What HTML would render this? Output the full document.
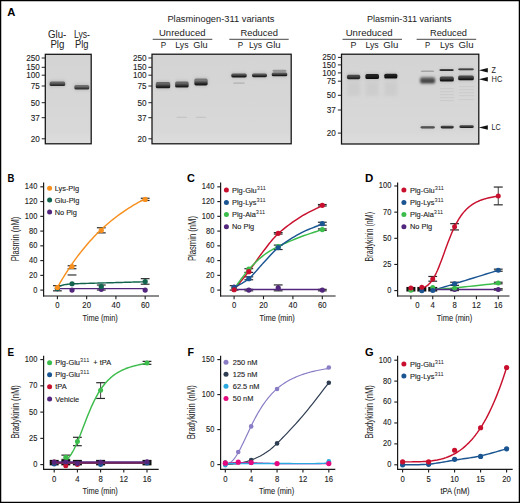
<!DOCTYPE html>
<html><head><meta charset="utf-8"><style>
html,body{margin:0;padding:0;background:#fff;}
svg{display:block;font-family:"Liberation Sans", sans-serif;}
</style></head><body>
<svg width="520" height="503" viewBox="0 0 520 503">
<defs>
<filter id="blur" x="-30%" y="-80%" width="160%" height="260%"><feGaussianBlur stdDeviation="0.7"/></filter>
<linearGradient id="gelbg" x1="0" y1="0" x2="0" y2="1"><stop offset="0" stop-color="#d4d4d4"/><stop offset="0.85" stop-color="#d8d8d8"/><stop offset="1" stop-color="#dddddd"/></linearGradient>
<filter id="blur3" x="-30%" y="-80%" width="160%" height="260%"><feGaussianBlur stdDeviation="1.0"/></filter>
<filter id="blur2" x="-50%" y="-50%" width="200%" height="200%"><feGaussianBlur stdDeviation="1.5"/></filter>
</defs>
<rect x="0" y="0" width="520" height="503" fill="#fff"/>
<text x="7.30" y="15.80" font-size="11.1" text-anchor="start" font-weight="bold" fill="#000" textLength="8.1" lengthAdjust="spacingAndGlyphs" >A</text>
<text x="48.00" y="37.60" font-size="10" text-anchor="start" font-weight="normal" fill="#222" textLength="18.3" lengthAdjust="spacingAndGlyphs" >Glu-</text>
<text x="50.40" y="48.20" font-size="10" text-anchor="start" font-weight="normal" fill="#222" textLength="14" lengthAdjust="spacingAndGlyphs" >Plg</text>
<text x="74.00" y="37.60" font-size="10" text-anchor="start" font-weight="normal" fill="#222" textLength="16" lengthAdjust="spacingAndGlyphs" >Lys-</text>
<text x="75.00" y="48.20" font-size="10" text-anchor="start" font-weight="normal" fill="#222" textLength="13.5" lengthAdjust="spacingAndGlyphs" >Plg</text>
<rect x="45.3" y="54.3" width="45.900000000000006" height="89.50000000000001" fill="url(#gelbg)"/>
<rect x="45.3" y="54.3" width="45.900000000000006" height="89.50000000000001" fill="none" stroke="#111" stroke-width="1.25"/>
<line x1="41.70" y1="58.00" x2="45.30" y2="58.00" stroke="#222" stroke-width="1.0"/>
<text x="39.80" y="60.90" font-size="8.5" text-anchor="end" font-weight="normal" fill="#1c1c1c" textLength="13.649999999999999" lengthAdjust="spacingAndGlyphs" stroke="#1c1c1c" stroke-width="0.1">250</text>
<line x1="41.70" y1="67.30" x2="45.30" y2="67.30" stroke="#222" stroke-width="1.0"/>
<text x="39.80" y="70.20" font-size="8.5" text-anchor="end" font-weight="normal" fill="#1c1c1c" textLength="13.649999999999999" lengthAdjust="spacingAndGlyphs" stroke="#1c1c1c" stroke-width="0.1">150</text>
<line x1="41.70" y1="75.20" x2="45.30" y2="75.20" stroke="#222" stroke-width="1.0"/>
<text x="39.80" y="78.10" font-size="8.5" text-anchor="end" font-weight="normal" fill="#1c1c1c" textLength="13.649999999999999" lengthAdjust="spacingAndGlyphs" stroke="#1c1c1c" stroke-width="0.1">100</text>
<line x1="41.70" y1="86.00" x2="45.30" y2="86.00" stroke="#222" stroke-width="1.0"/>
<text x="39.80" y="88.90" font-size="8.5" text-anchor="end" font-weight="normal" fill="#1c1c1c" textLength="9.1" lengthAdjust="spacingAndGlyphs" stroke="#1c1c1c" stroke-width="0.1">75</text>
<line x1="41.70" y1="102.70" x2="45.30" y2="102.70" stroke="#222" stroke-width="1.0"/>
<text x="39.80" y="105.60" font-size="8.5" text-anchor="end" font-weight="normal" fill="#1c1c1c" textLength="9.1" lengthAdjust="spacingAndGlyphs" stroke="#1c1c1c" stroke-width="0.1">50</text>
<line x1="41.70" y1="117.70" x2="45.30" y2="117.70" stroke="#222" stroke-width="1.0"/>
<text x="39.80" y="120.60" font-size="8.5" text-anchor="end" font-weight="normal" fill="#1c1c1c" textLength="9.1" lengthAdjust="spacingAndGlyphs" stroke="#1c1c1c" stroke-width="0.1">37</text>
<line x1="41.70" y1="138.80" x2="45.30" y2="138.80" stroke="#222" stroke-width="1.0"/>
<text x="39.80" y="141.70" font-size="8.5" text-anchor="end" font-weight="normal" fill="#1c1c1c" textLength="9.1" lengthAdjust="spacingAndGlyphs" stroke="#1c1c1c" stroke-width="0.1">20</text>
<rect x="49.10" y="80.30" width="16.60" height="6.80" rx="2" fill="#8a8a8a" opacity="0.3" filter="url(#blur2)"/>
<linearGradient id="g22" x1="0" y1="0" x2="0" y2="1"><stop offset="0" stop-color="#666"/><stop offset="0.3" stop-color="#666"/><stop offset="0.8" stop-color="#2a2a2a"/><stop offset="1" stop-color="#2a2a2a"/></linearGradient>
<rect x="49.60" y="81.50" width="15.60" height="4.60" rx="1.6" fill="url(#g22)" opacity="1.0" filter="url(#blur)"/>
<rect x="73.85" y="83.70" width="15.90" height="6.80" rx="2" fill="#8a8a8a" opacity="0.3" filter="url(#blur2)"/>
<linearGradient id="g25" x1="0" y1="0" x2="0" y2="1"><stop offset="0" stop-color="#707070"/><stop offset="0.3" stop-color="#707070"/><stop offset="0.8" stop-color="#333"/><stop offset="1" stop-color="#333"/></linearGradient>
<rect x="74.35" y="84.90" width="14.90" height="4.60" rx="1.6" fill="url(#g25)" opacity="1.0" filter="url(#blur)"/>
<text x="167.40" y="22.20" font-size="8.5" text-anchor="start" font-weight="normal" fill="#222" textLength="107" lengthAdjust="spacingAndGlyphs" >Plasminogen-311 variants</text>
<text x="159.00" y="35.90" font-size="9.4" text-anchor="start" font-weight="normal" fill="#222" textLength="46.5" lengthAdjust="spacingAndGlyphs" >Unreduced</text>
<line x1="152.70" y1="39.30" x2="212.30" y2="39.30" stroke="#333" stroke-width="0.9"/>
<text x="240.40" y="35.90" font-size="9.4" text-anchor="start" font-weight="normal" fill="#222" textLength="37.6" lengthAdjust="spacingAndGlyphs" >Reduced</text>
<line x1="229.30" y1="39.30" x2="288.70" y2="39.30" stroke="#333" stroke-width="0.9"/>
<text x="160.80" y="48.10" font-size="9.0" text-anchor="start" font-weight="normal" fill="#222" textLength="5.4" lengthAdjust="spacingAndGlyphs" >P</text>
<text x="175.30" y="48.10" font-size="9.0" text-anchor="start" font-weight="normal" fill="#222" textLength="13.2" lengthAdjust="spacingAndGlyphs" >Lys</text>
<text x="193.30" y="48.10" font-size="9.0" text-anchor="start" font-weight="normal" fill="#222" textLength="14.3" lengthAdjust="spacingAndGlyphs" >Glu</text>
<text x="237.70" y="48.10" font-size="9.0" text-anchor="start" font-weight="normal" fill="#222" textLength="5.4" lengthAdjust="spacingAndGlyphs" >P</text>
<text x="249.00" y="48.10" font-size="9.0" text-anchor="start" font-weight="normal" fill="#222" textLength="13" lengthAdjust="spacingAndGlyphs" >Lys</text>
<text x="265.80" y="48.10" font-size="9.0" text-anchor="start" font-weight="normal" fill="#222" textLength="14.9" lengthAdjust="spacingAndGlyphs" >Glu</text>
<rect x="152" y="54.2" width="139.2" height="89.60000000000001" fill="url(#gelbg)"/>
<rect x="152" y="54.2" width="139.2" height="89.60000000000001" fill="none" stroke="#111" stroke-width="1.25"/>
<line x1="148.40" y1="58.00" x2="152.00" y2="58.00" stroke="#222" stroke-width="1.0"/>
<text x="146.60" y="60.90" font-size="8.5" text-anchor="end" font-weight="normal" fill="#1c1c1c" textLength="13.649999999999999" lengthAdjust="spacingAndGlyphs" stroke="#1c1c1c" stroke-width="0.1">250</text>
<line x1="148.40" y1="67.30" x2="152.00" y2="67.30" stroke="#222" stroke-width="1.0"/>
<text x="146.60" y="70.20" font-size="8.5" text-anchor="end" font-weight="normal" fill="#1c1c1c" textLength="13.649999999999999" lengthAdjust="spacingAndGlyphs" stroke="#1c1c1c" stroke-width="0.1">150</text>
<line x1="148.40" y1="75.20" x2="152.00" y2="75.20" stroke="#222" stroke-width="1.0"/>
<text x="146.60" y="78.10" font-size="8.5" text-anchor="end" font-weight="normal" fill="#1c1c1c" textLength="13.649999999999999" lengthAdjust="spacingAndGlyphs" stroke="#1c1c1c" stroke-width="0.1">100</text>
<line x1="148.40" y1="86.00" x2="152.00" y2="86.00" stroke="#222" stroke-width="1.0"/>
<text x="146.60" y="88.90" font-size="8.5" text-anchor="end" font-weight="normal" fill="#1c1c1c" textLength="9.1" lengthAdjust="spacingAndGlyphs" stroke="#1c1c1c" stroke-width="0.1">75</text>
<line x1="148.40" y1="102.70" x2="152.00" y2="102.70" stroke="#222" stroke-width="1.0"/>
<text x="146.60" y="105.60" font-size="8.5" text-anchor="end" font-weight="normal" fill="#1c1c1c" textLength="9.1" lengthAdjust="spacingAndGlyphs" stroke="#1c1c1c" stroke-width="0.1">50</text>
<line x1="148.40" y1="117.70" x2="152.00" y2="117.70" stroke="#222" stroke-width="1.0"/>
<text x="146.60" y="120.60" font-size="8.5" text-anchor="end" font-weight="normal" fill="#1c1c1c" textLength="9.1" lengthAdjust="spacingAndGlyphs" stroke="#1c1c1c" stroke-width="0.1">37</text>
<line x1="148.40" y1="138.80" x2="152.00" y2="138.80" stroke="#222" stroke-width="1.0"/>
<text x="146.60" y="141.70" font-size="8.5" text-anchor="end" font-weight="normal" fill="#1c1c1c" textLength="9.1" lengthAdjust="spacingAndGlyphs" stroke="#1c1c1c" stroke-width="0.1">20</text>
<rect x="155.30" y="80.90" width="15.40" height="8.40" rx="2" fill="#8a8a8a" opacity="0.3" filter="url(#blur2)"/>
<linearGradient id="g55" x1="0" y1="0" x2="0" y2="1"><stop offset="0" stop-color="#666"/><stop offset="0.3" stop-color="#666"/><stop offset="0.8" stop-color="#1c1c1c"/><stop offset="1" stop-color="#1c1c1c"/></linearGradient>
<rect x="155.80" y="82.10" width="14.40" height="6.20" rx="1.6" fill="url(#g55)" opacity="1.0" filter="url(#blur)"/>
<rect x="174.65" y="80.20" width="14.50" height="8.40" rx="2" fill="#8a8a8a" opacity="0.3" filter="url(#blur2)"/>
<linearGradient id="g58" x1="0" y1="0" x2="0" y2="1"><stop offset="0" stop-color="#666"/><stop offset="0.3" stop-color="#666"/><stop offset="0.8" stop-color="#1e1e1e"/><stop offset="1" stop-color="#1e1e1e"/></linearGradient>
<rect x="175.15" y="81.40" width="13.50" height="6.20" rx="1.6" fill="url(#g58)" opacity="1.0" filter="url(#blur)"/>
<rect x="193.85" y="77.40" width="14.30" height="9.00" rx="2" fill="#8a8a8a" opacity="0.3" filter="url(#blur2)"/>
<linearGradient id="g61" x1="0" y1="0" x2="0" y2="1"><stop offset="0" stop-color="#777"/><stop offset="0.3" stop-color="#777"/><stop offset="0.8" stop-color="#1a1a1a"/><stop offset="1" stop-color="#1a1a1a"/></linearGradient>
<rect x="194.35" y="78.60" width="13.30" height="6.80" rx="1.6" fill="url(#g61)" opacity="1.0" filter="url(#blur)"/>
<rect x="230.75" y="72.40" width="16.50" height="6.00" rx="2" fill="#8a8a8a" opacity="0.3" filter="url(#blur2)"/>
<linearGradient id="g64" x1="0" y1="0" x2="0" y2="1"><stop offset="0" stop-color="#555"/><stop offset="0.3" stop-color="#555"/><stop offset="0.8" stop-color="#1a1a1a"/><stop offset="1" stop-color="#1a1a1a"/></linearGradient>
<rect x="231.25" y="73.60" width="15.50" height="3.80" rx="1.6" fill="url(#g64)" opacity="1.0" filter="url(#blur)"/>
<linearGradient id="g66" x1="0" y1="0" x2="0" y2="1"><stop offset="0" stop-color="#aaa"/><stop offset="0.3" stop-color="#aaa"/><stop offset="0.8" stop-color="#999"/><stop offset="1" stop-color="#999"/></linearGradient>
<rect x="233.00" y="82.30" width="12.00" height="1.40" rx="1.6" fill="url(#g66)" opacity="0.6" filter="url(#blur)"/>
<rect x="251.50" y="72.20" width="16.00" height="6.00" rx="2" fill="#8a8a8a" opacity="0.3" filter="url(#blur2)"/>
<linearGradient id="g69" x1="0" y1="0" x2="0" y2="1"><stop offset="0" stop-color="#555"/><stop offset="0.3" stop-color="#555"/><stop offset="0.8" stop-color="#1a1a1a"/><stop offset="1" stop-color="#1a1a1a"/></linearGradient>
<rect x="252.00" y="73.40" width="15.00" height="3.80" rx="1.6" fill="url(#g69)" opacity="1.0" filter="url(#blur)"/>
<rect x="271.25" y="71.30" width="16.50" height="6.00" rx="2" fill="#8a8a8a" opacity="0.3" filter="url(#blur2)"/>
<linearGradient id="g72" x1="0" y1="0" x2="0" y2="1"><stop offset="0" stop-color="#555"/><stop offset="0.3" stop-color="#555"/><stop offset="0.8" stop-color="#1a1a1a"/><stop offset="1" stop-color="#1a1a1a"/></linearGradient>
<rect x="271.75" y="72.50" width="15.50" height="3.80" rx="1.6" fill="url(#g72)" opacity="1.0" filter="url(#blur)"/>
<linearGradient id="g74" x1="0" y1="0" x2="0" y2="1"><stop offset="0" stop-color="#888"/><stop offset="0.3" stop-color="#888"/><stop offset="0.8" stop-color="#777"/><stop offset="1" stop-color="#777"/></linearGradient>
<rect x="272.50" y="69.80" width="14.00" height="2.00" rx="1.6" fill="url(#g74)" opacity="0.8" filter="url(#blur)"/>
<linearGradient id="g76" x1="0" y1="0" x2="0" y2="1"><stop offset="0" stop-color="#bbb"/><stop offset="0.3" stop-color="#bbb"/><stop offset="0.8" stop-color="#bbb"/><stop offset="1" stop-color="#bbb"/></linearGradient>
<rect x="176.40" y="116.80" width="11.00" height="1.00" rx="1.6" fill="url(#g76)" opacity="0.8" filter="url(#blur)"/>
<linearGradient id="g78" x1="0" y1="0" x2="0" y2="1"><stop offset="0" stop-color="#bbb"/><stop offset="0.3" stop-color="#bbb"/><stop offset="0.8" stop-color="#bbb"/><stop offset="1" stop-color="#bbb"/></linearGradient>
<rect x="195.50" y="116.80" width="11.00" height="1.00" rx="1.6" fill="url(#g78)" opacity="0.8" filter="url(#blur)"/>
<text x="366.90" y="22.00" font-size="8.5" text-anchor="start" font-weight="normal" fill="#222" textLength="84.6" lengthAdjust="spacingAndGlyphs" >Plasmin-311 variants</text>
<text x="345.70" y="35.90" font-size="9.4" text-anchor="start" font-weight="normal" fill="#222" textLength="46.9" lengthAdjust="spacingAndGlyphs" >Unreduced</text>
<line x1="342.50" y1="39.30" x2="402.00" y2="39.30" stroke="#333" stroke-width="0.9"/>
<text x="430.00" y="35.90" font-size="9.4" text-anchor="start" font-weight="normal" fill="#222" textLength="37" lengthAdjust="spacingAndGlyphs" >Reduced</text>
<line x1="416.60" y1="39.30" x2="476.20" y2="39.30" stroke="#333" stroke-width="0.9"/>
<text x="350.60" y="48.10" font-size="9.0" text-anchor="start" font-weight="normal" fill="#222" textLength="5.9" lengthAdjust="spacingAndGlyphs" >P</text>
<text x="365.40" y="48.10" font-size="9.0" text-anchor="start" font-weight="normal" fill="#222" textLength="13.3" lengthAdjust="spacingAndGlyphs" >Lys</text>
<text x="383.30" y="48.10" font-size="9.0" text-anchor="start" font-weight="normal" fill="#222" textLength="15" lengthAdjust="spacingAndGlyphs" >Glu</text>
<text x="425.00" y="48.10" font-size="9.0" text-anchor="start" font-weight="normal" fill="#222" textLength="5.2" lengthAdjust="spacingAndGlyphs" >P</text>
<text x="440.00" y="48.10" font-size="9.0" text-anchor="start" font-weight="normal" fill="#222" textLength="13.7" lengthAdjust="spacingAndGlyphs" >Lys</text>
<text x="458.50" y="48.10" font-size="9.0" text-anchor="start" font-weight="normal" fill="#222" textLength="15" lengthAdjust="spacingAndGlyphs" >Glu</text>
<rect x="341.5" y="54.2" width="137.3" height="89.8" fill="url(#gelbg)"/>
<rect x="341.5" y="54.2" width="137.3" height="89.8" fill="none" stroke="#111" stroke-width="1.25"/>
<line x1="337.90" y1="57.40" x2="341.50" y2="57.40" stroke="#222" stroke-width="1.0"/>
<text x="335.80" y="60.30" font-size="8.5" text-anchor="end" font-weight="normal" fill="#1c1c1c" textLength="13.649999999999999" lengthAdjust="spacingAndGlyphs" stroke="#1c1c1c" stroke-width="0.1">250</text>
<line x1="337.90" y1="64.90" x2="341.50" y2="64.90" stroke="#222" stroke-width="1.0"/>
<text x="335.80" y="67.80" font-size="8.5" text-anchor="end" font-weight="normal" fill="#1c1c1c" textLength="13.649999999999999" lengthAdjust="spacingAndGlyphs" stroke="#1c1c1c" stroke-width="0.1">150</text>
<line x1="337.90" y1="72.90" x2="341.50" y2="72.90" stroke="#222" stroke-width="1.0"/>
<text x="335.80" y="75.80" font-size="8.5" text-anchor="end" font-weight="normal" fill="#1c1c1c" textLength="13.649999999999999" lengthAdjust="spacingAndGlyphs" stroke="#1c1c1c" stroke-width="0.1">100</text>
<line x1="337.90" y1="81.20" x2="341.50" y2="81.20" stroke="#222" stroke-width="1.0"/>
<text x="335.80" y="84.10" font-size="8.5" text-anchor="end" font-weight="normal" fill="#1c1c1c" textLength="9.1" lengthAdjust="spacingAndGlyphs" stroke="#1c1c1c" stroke-width="0.1">75</text>
<line x1="337.90" y1="95.30" x2="341.50" y2="95.30" stroke="#222" stroke-width="1.0"/>
<text x="335.80" y="98.20" font-size="8.5" text-anchor="end" font-weight="normal" fill="#1c1c1c" textLength="9.1" lengthAdjust="spacingAndGlyphs" stroke="#1c1c1c" stroke-width="0.1">50</text>
<line x1="337.90" y1="110.00" x2="341.50" y2="110.00" stroke="#222" stroke-width="1.0"/>
<text x="335.80" y="112.90" font-size="8.5" text-anchor="end" font-weight="normal" fill="#1c1c1c" textLength="9.1" lengthAdjust="spacingAndGlyphs" stroke="#1c1c1c" stroke-width="0.1">37</text>
<line x1="337.90" y1="133.10" x2="341.50" y2="133.10" stroke="#222" stroke-width="1.0"/>
<text x="335.80" y="136.00" font-size="8.5" text-anchor="end" font-weight="normal" fill="#1c1c1c" textLength="9.1" lengthAdjust="spacingAndGlyphs" stroke="#1c1c1c" stroke-width="0.1">20</text>
<rect x="346.45" y="73.60" width="14.30" height="6.60" rx="2" fill="#8a8a8a" opacity="0.3" filter="url(#blur2)"/>
<linearGradient id="g108" x1="0" y1="0" x2="0" y2="1"><stop offset="0" stop-color="#4a4a4a"/><stop offset="0.3" stop-color="#4a4a4a"/><stop offset="0.8" stop-color="#222"/><stop offset="1" stop-color="#222"/></linearGradient>
<rect x="346.95" y="74.80" width="13.30" height="4.40" rx="1.6" fill="url(#g108)" opacity="1.0" filter="url(#blur)"/>
<rect x="364.90" y="72.80" width="14.60" height="7.20" rx="2" fill="#8a8a8a" opacity="0.3" filter="url(#blur2)"/>
<linearGradient id="g111" x1="0" y1="0" x2="0" y2="1"><stop offset="0" stop-color="#222"/><stop offset="0.3" stop-color="#222"/><stop offset="0.8" stop-color="#0e0e0e"/><stop offset="1" stop-color="#0e0e0e"/></linearGradient>
<rect x="365.40" y="74.00" width="13.60" height="5.00" rx="1.6" fill="url(#g111)" opacity="1.0" filter="url(#blur)"/>
<rect x="383.75" y="72.50" width="14.10" height="7.00" rx="2" fill="#8a8a8a" opacity="0.3" filter="url(#blur2)"/>
<linearGradient id="g114" x1="0" y1="0" x2="0" y2="1"><stop offset="0" stop-color="#222"/><stop offset="0.3" stop-color="#222"/><stop offset="0.8" stop-color="#0e0e0e"/><stop offset="1" stop-color="#0e0e0e"/></linearGradient>
<rect x="384.25" y="73.70" width="13.10" height="4.80" rx="1.6" fill="url(#g114)" opacity="1.0" filter="url(#blur)"/>
<rect x="347.1" y="82" width="13" height="14" fill="#b5b5b5" opacity="0.25" filter="url(#blur2)"/>
<rect x="365.7" y="82" width="13" height="14" fill="#b5b5b5" opacity="0.25" filter="url(#blur2)"/>
<rect x="384.3" y="82" width="13" height="14" fill="#b5b5b5" opacity="0.25" filter="url(#blur2)"/>
<linearGradient id="g119" x1="0" y1="0" x2="0" y2="1"><stop offset="0" stop-color="#999"/><stop offset="0.3" stop-color="#999"/><stop offset="0.8" stop-color="#999"/><stop offset="1" stop-color="#999"/></linearGradient>
<rect x="420.60" y="70.50" width="13.80" height="1.40" rx="1.6" fill="url(#g119)" opacity="0.8" filter="url(#blur)"/>
<rect x="419.75" y="76.20" width="15.70" height="8.00" rx="2" fill="#8a8a8a" opacity="0.3" filter="url(#blur2)"/>
<linearGradient id="g122" x1="0" y1="0" x2="0" y2="1"><stop offset="0" stop-color="#5a5a5a"/><stop offset="0.3" stop-color="#5a5a5a"/><stop offset="0.8" stop-color="#3c3c3c"/><stop offset="1" stop-color="#3c3c3c"/></linearGradient>
<rect x="420.25" y="77.40" width="14.70" height="5.80" rx="1.6" fill="url(#g122)" opacity="1.0" filter="url(#blur3)"/>
<rect x="438.90" y="67.70" width="15.40" height="4.40" rx="2" fill="#8a8a8a" opacity="0.15" filter="url(#blur2)"/>
<linearGradient id="g125" x1="0" y1="0" x2="0" y2="1"><stop offset="0" stop-color="#444"/><stop offset="0.3" stop-color="#444"/><stop offset="0.8" stop-color="#262626"/><stop offset="1" stop-color="#262626"/></linearGradient>
<rect x="439.40" y="68.90" width="14.40" height="2.20" rx="1.6" fill="url(#g125)" opacity="1.0" filter="url(#blur)"/>
<rect x="439.30" y="75.40" width="15.00" height="7.20" rx="2" fill="#8a8a8a" opacity="0.3" filter="url(#blur2)"/>
<linearGradient id="g128" x1="0" y1="0" x2="0" y2="1"><stop offset="0" stop-color="#4a4a4a"/><stop offset="0.3" stop-color="#4a4a4a"/><stop offset="0.8" stop-color="#141414"/><stop offset="1" stop-color="#141414"/></linearGradient>
<rect x="439.80" y="76.60" width="14.00" height="5.00" rx="1.6" fill="url(#g128)" opacity="1.0" filter="url(#blur)"/>
<rect x="457.65" y="67.10" width="16.70" height="4.20" rx="2" fill="#8a8a8a" opacity="0.15" filter="url(#blur2)"/>
<linearGradient id="g131" x1="0" y1="0" x2="0" y2="1"><stop offset="0" stop-color="#555"/><stop offset="0.3" stop-color="#555"/><stop offset="0.8" stop-color="#333"/><stop offset="1" stop-color="#333"/></linearGradient>
<rect x="458.15" y="68.30" width="15.70" height="2.00" rx="1.6" fill="url(#g131)" opacity="1.0" filter="url(#blur)"/>
<rect x="457.65" y="74.30" width="16.70" height="7.00" rx="2" fill="#8a8a8a" opacity="0.3" filter="url(#blur2)"/>
<linearGradient id="g134" x1="0" y1="0" x2="0" y2="1"><stop offset="0" stop-color="#4a4a4a"/><stop offset="0.3" stop-color="#4a4a4a"/><stop offset="0.8" stop-color="#141414"/><stop offset="1" stop-color="#141414"/></linearGradient>
<rect x="458.15" y="75.50" width="15.70" height="4.80" rx="1.6" fill="url(#g134)" opacity="1.0" filter="url(#blur)"/>
<rect x="420.10" y="124.80" width="15.20" height="4.80" rx="2" fill="#8a8a8a" opacity="0.15" filter="url(#blur2)"/>
<linearGradient id="g137" x1="0" y1="0" x2="0" y2="1"><stop offset="0" stop-color="#666"/><stop offset="0.3" stop-color="#666"/><stop offset="0.8" stop-color="#444"/><stop offset="1" stop-color="#444"/></linearGradient>
<rect x="420.60" y="126.00" width="14.20" height="2.60" rx="1.6" fill="url(#g137)" opacity="1.0" filter="url(#blur)"/>
<rect x="440.10" y="124.50" width="14.20" height="5.00" rx="2" fill="#8a8a8a" opacity="0.15" filter="url(#blur2)"/>
<linearGradient id="g140" x1="0" y1="0" x2="0" y2="1"><stop offset="0" stop-color="#444"/><stop offset="0.3" stop-color="#444"/><stop offset="0.8" stop-color="#222"/><stop offset="1" stop-color="#222"/></linearGradient>
<rect x="440.60" y="125.70" width="13.20" height="2.80" rx="1.6" fill="url(#g140)" opacity="1.0" filter="url(#blur)"/>
<rect x="458.90" y="124.10" width="15.40" height="5.00" rx="2" fill="#8a8a8a" opacity="0.15" filter="url(#blur2)"/>
<linearGradient id="g143" x1="0" y1="0" x2="0" y2="1"><stop offset="0" stop-color="#444"/><stop offset="0.3" stop-color="#444"/><stop offset="0.8" stop-color="#222"/><stop offset="1" stop-color="#222"/></linearGradient>
<rect x="459.40" y="125.30" width="14.40" height="2.80" rx="1.6" fill="url(#g143)" opacity="1.0" filter="url(#blur)"/>
<rect x="440" y="88" width="14" height="1.2" fill="#aaa" opacity="0.22" filter="url(#blur)"/>
<rect x="440" y="91" width="14" height="1.2" fill="#aaa" opacity="0.22" filter="url(#blur)"/>
<rect x="440" y="94" width="14" height="1.2" fill="#aaa" opacity="0.22" filter="url(#blur)"/>
<rect x="440" y="97" width="14" height="1.2" fill="#aaa" opacity="0.22" filter="url(#blur)"/>
<rect x="440" y="100" width="14" height="1.2" fill="#aaa" opacity="0.22" filter="url(#blur)"/>
<rect x="459" y="86" width="15" height="1.2" fill="#aaa" opacity="0.2" filter="url(#blur)"/>
<rect x="459" y="89" width="15" height="1.2" fill="#aaa" opacity="0.2" filter="url(#blur)"/>
<rect x="459" y="92" width="15" height="1.2" fill="#aaa" opacity="0.2" filter="url(#blur)"/>
<rect x="459" y="95" width="15" height="1.2" fill="#aaa" opacity="0.2" filter="url(#blur)"/>
<rect x="459" y="99" width="15" height="1.2" fill="#aaa" opacity="0.2" filter="url(#blur)"/>
<polygon points="478.8,70.2 487.8,67.9 487.8,72.5" fill="#111"/>
<text x="491.50" y="73.10" font-size="8.3" text-anchor="start" font-weight="normal" fill="#1c1c1c" textLength="4.4" lengthAdjust="spacingAndGlyphs" >Z</text>
<polygon points="478.8,79.3 487.8,77.0 487.8,81.6" fill="#111"/>
<text x="491.50" y="82.20" font-size="8.3" text-anchor="start" font-weight="normal" fill="#1c1c1c" textLength="10.8" lengthAdjust="spacingAndGlyphs" >HC</text>
<polygon points="478.8,127.5 487.8,125.2 487.8,129.8" fill="#111"/>
<text x="491.50" y="130.40" font-size="8.3" text-anchor="start" font-weight="normal" fill="#1c1c1c" textLength="9.2" lengthAdjust="spacingAndGlyphs" >LC</text>
<text x="7.50" y="182.30" font-size="11.1" text-anchor="start" font-weight="bold" fill="#000" textLength="6.9" lengthAdjust="spacingAndGlyphs" >B</text>
<line x1="43.60" y1="182.50" x2="43.60" y2="296.60" stroke="#1a1a1a" stroke-width="1.2"/>
<line x1="43.00" y1="296.00" x2="159.00" y2="296.00" stroke="#1a1a1a" stroke-width="1.2"/>
<line x1="40.30" y1="290.10" x2="43.60" y2="290.10" stroke="#1a1a1a" stroke-width="1.1"/>
<text x="37.30" y="292.55" font-size="8.5" text-anchor="end" font-weight="normal" fill="#1c1c1c" textLength="4.15" lengthAdjust="spacingAndGlyphs" stroke="#1c1c1c" stroke-width="0.12">0</text>
<line x1="40.30" y1="275.35" x2="43.60" y2="275.35" stroke="#1a1a1a" stroke-width="1.1"/>
<text x="37.30" y="277.80" font-size="8.5" text-anchor="end" font-weight="normal" fill="#1c1c1c" textLength="8.3" lengthAdjust="spacingAndGlyphs" stroke="#1c1c1c" stroke-width="0.12">20</text>
<line x1="40.30" y1="260.60" x2="43.60" y2="260.60" stroke="#1a1a1a" stroke-width="1.1"/>
<text x="37.30" y="263.05" font-size="8.5" text-anchor="end" font-weight="normal" fill="#1c1c1c" textLength="8.3" lengthAdjust="spacingAndGlyphs" stroke="#1c1c1c" stroke-width="0.12">40</text>
<line x1="40.30" y1="245.84" x2="43.60" y2="245.84" stroke="#1a1a1a" stroke-width="1.1"/>
<text x="37.30" y="248.29" font-size="8.5" text-anchor="end" font-weight="normal" fill="#1c1c1c" textLength="8.3" lengthAdjust="spacingAndGlyphs" stroke="#1c1c1c" stroke-width="0.12">60</text>
<line x1="40.30" y1="231.09" x2="43.60" y2="231.09" stroke="#1a1a1a" stroke-width="1.1"/>
<text x="37.30" y="233.54" font-size="8.5" text-anchor="end" font-weight="normal" fill="#1c1c1c" textLength="8.3" lengthAdjust="spacingAndGlyphs" stroke="#1c1c1c" stroke-width="0.12">80</text>
<line x1="40.30" y1="216.34" x2="43.60" y2="216.34" stroke="#1a1a1a" stroke-width="1.1"/>
<text x="37.30" y="218.79" font-size="8.5" text-anchor="end" font-weight="normal" fill="#1c1c1c" textLength="12.450000000000001" lengthAdjust="spacingAndGlyphs" stroke="#1c1c1c" stroke-width="0.12">100</text>
<line x1="40.30" y1="201.59" x2="43.60" y2="201.59" stroke="#1a1a1a" stroke-width="1.1"/>
<text x="37.30" y="204.04" font-size="8.5" text-anchor="end" font-weight="normal" fill="#1c1c1c" textLength="12.450000000000001" lengthAdjust="spacingAndGlyphs" stroke="#1c1c1c" stroke-width="0.12">120</text>
<line x1="40.30" y1="186.84" x2="43.60" y2="186.84" stroke="#1a1a1a" stroke-width="1.1"/>
<text x="37.30" y="189.29" font-size="8.5" text-anchor="end" font-weight="normal" fill="#1c1c1c" textLength="12.450000000000001" lengthAdjust="spacingAndGlyphs" stroke="#1c1c1c" stroke-width="0.12">140</text>
<line x1="57.40" y1="296.00" x2="57.40" y2="299.20" stroke="#1a1a1a" stroke-width="1.1"/>
<text x="57.40" y="308.00" font-size="8.5" text-anchor="middle" font-weight="normal" fill="#1c1c1c" textLength="4.3" lengthAdjust="spacingAndGlyphs" stroke="#1c1c1c" stroke-width="0.12">0</text>
<line x1="86.66" y1="296.00" x2="86.66" y2="299.20" stroke="#1a1a1a" stroke-width="1.1"/>
<text x="86.66" y="308.00" font-size="8.5" text-anchor="middle" font-weight="normal" fill="#1c1c1c" textLength="8.6" lengthAdjust="spacingAndGlyphs" stroke="#1c1c1c" stroke-width="0.12">20</text>
<line x1="115.92" y1="296.00" x2="115.92" y2="299.20" stroke="#1a1a1a" stroke-width="1.1"/>
<text x="115.92" y="308.00" font-size="8.5" text-anchor="middle" font-weight="normal" fill="#1c1c1c" textLength="8.6" lengthAdjust="spacingAndGlyphs" stroke="#1c1c1c" stroke-width="0.12">40</text>
<line x1="145.18" y1="296.00" x2="145.18" y2="299.20" stroke="#1a1a1a" stroke-width="1.1"/>
<text x="145.18" y="308.00" font-size="8.5" text-anchor="middle" font-weight="normal" fill="#1c1c1c" textLength="8.6" lengthAdjust="spacingAndGlyphs" stroke="#1c1c1c" stroke-width="0.12">60</text>
<text x="100.20" y="320.80" font-size="9.8" text-anchor="middle" font-weight="normal" fill="#1c1c1c" textLength="35.3" lengthAdjust="spacingAndGlyphs" stroke="#1c1c1c" stroke-width="0.1">Time (min)</text>
<text x="0" y="0" font-size="10" text-anchor="middle" fill="#222" textLength="44.6" lengthAdjust="spacingAndGlyphs" transform="translate(19.00,239.00) rotate(-90)">Plasmin (nM)</text>
<circle cx="49.60" cy="188.20" r="2.5" fill="#f7901e"/>
<text x="54.70" y="190.80" font-size="7.4" text-anchor="start" font-weight="normal" fill="#1c1c1c" stroke="#1c1c1c" stroke-width="0.12">Lys-Plg</text>
<circle cx="49.60" cy="200.10" r="2.5" fill="#12644f"/>
<text x="54.70" y="202.70" font-size="7.4" text-anchor="start" font-weight="normal" fill="#1c1c1c" stroke="#1c1c1c" stroke-width="0.12">Glu-Plg</text>
<circle cx="49.60" cy="212.00" r="2.5" fill="#51267c"/>
<text x="54.70" y="214.60" font-size="7.4" text-anchor="start" font-weight="normal" fill="#1c1c1c" stroke="#1c1c1c" stroke-width="0.12">No Plg</text>
<line x1="57.40" y1="285.67" x2="57.40" y2="290.84" stroke="#2a2a2a" stroke-width="0.9"/>
<line x1="53.00" y1="285.67" x2="61.80" y2="285.67" stroke="#2a2a2a" stroke-width="1.2"/>
<line x1="53.00" y1="290.84" x2="61.80" y2="290.84" stroke="#2a2a2a" stroke-width="1.2"/>
<line x1="72.03" y1="265.76" x2="72.03" y2="268.71" stroke="#2a2a2a" stroke-width="0.9"/>
<line x1="67.63" y1="265.76" x2="76.43" y2="265.76" stroke="#2a2a2a" stroke-width="1.2"/>
<line x1="67.63" y1="268.71" x2="76.43" y2="268.71" stroke="#2a2a2a" stroke-width="1.2"/>
<line x1="67.63" y1="274.98" x2="76.43" y2="274.98" stroke="#333" stroke-width="1.2"/>
<line x1="101.29" y1="227.77" x2="101.29" y2="232.86" stroke="#2a2a2a" stroke-width="0.9"/>
<line x1="96.89" y1="227.77" x2="105.69" y2="227.77" stroke="#2a2a2a" stroke-width="1.2"/>
<line x1="96.89" y1="232.86" x2="105.69" y2="232.86" stroke="#2a2a2a" stroke-width="1.2"/>
<line x1="145.18" y1="198.27" x2="145.18" y2="200.48" stroke="#2a2a2a" stroke-width="0.9"/>
<line x1="140.78" y1="198.27" x2="149.58" y2="198.27" stroke="#2a2a2a" stroke-width="1.2"/>
<line x1="140.78" y1="200.48" x2="149.58" y2="200.48" stroke="#2a2a2a" stroke-width="1.2"/>
<line x1="101.29" y1="285.01" x2="101.29" y2="290.03" stroke="#2a2a2a" stroke-width="0.9"/>
<line x1="96.89" y1="285.01" x2="105.69" y2="285.01" stroke="#2a2a2a" stroke-width="1.2"/>
<line x1="96.89" y1="290.03" x2="105.69" y2="290.03" stroke="#2a2a2a" stroke-width="1.2"/>
<line x1="145.18" y1="278.67" x2="145.18" y2="284.20" stroke="#2a2a2a" stroke-width="0.9"/>
<line x1="140.78" y1="278.67" x2="149.58" y2="278.67" stroke="#2a2a2a" stroke-width="1.2"/>
<line x1="140.78" y1="284.20" x2="149.58" y2="284.20" stroke="#2a2a2a" stroke-width="1.2"/>
<path d="M57.40,287.52 L58.86,284.93 L60.33,282.40 L61.79,279.93 L63.25,277.50 L64.72,275.13 L66.18,272.81 L67.64,270.53 L69.10,268.30 L70.57,266.12 L72.03,263.99 L73.49,261.90 L74.96,259.85 L76.42,257.85 L77.88,255.89 L79.34,253.96 L80.81,252.08 L82.27,250.24 L83.73,248.44 L85.20,246.68 L86.66,244.95 L88.12,243.26 L89.59,241.60 L91.05,239.98 L92.51,238.40 L93.97,236.84 L95.44,235.32 L96.90,233.83 L98.36,232.38 L99.83,230.95 L101.29,229.55 L102.75,228.18 L104.22,226.84 L105.68,225.53 L107.14,224.25 L108.61,222.99 L110.07,221.76 L111.53,220.56 L112.99,219.38 L114.46,218.22 L115.92,217.09 L117.38,215.99 L118.85,214.90 L120.31,213.84 L121.77,212.80 L123.24,211.79 L124.70,210.79 L126.16,209.82 L127.62,208.86 L129.09,207.93 L130.55,207.02 L132.01,206.12 L133.48,205.24 L134.94,204.39 L136.40,203.55 L137.87,202.72 L139.33,201.92 L140.79,201.13 L142.25,200.36 L143.72,199.60 L145.18,198.86" fill="none" stroke="#f7901e" stroke-width="1.45" stroke-linejoin="round" stroke-linecap="round"/>
<path d="M57.40,287.89 L58.86,286.76 L60.33,285.95 L61.79,285.37 L63.25,284.95 L64.72,284.64 L66.18,284.41 L67.64,284.23 L69.10,284.10 L70.57,283.99 L72.03,283.90 L73.49,283.83 L74.96,283.77 L76.42,283.71 L77.88,283.66 L79.34,283.61 L80.81,283.56 L82.27,283.52 L83.73,283.48 L85.20,283.43 L86.66,283.39 L88.12,283.35 L89.59,283.31 L91.05,283.27 L92.51,283.23 L93.97,283.19 L95.44,283.14 L96.90,283.10 L98.36,283.06 L99.83,283.02 L101.29,282.98 L102.75,282.94 L104.22,282.90 L105.68,282.86 L107.14,282.82 L108.61,282.78 L110.07,282.74 L111.53,282.70 L112.99,282.66 L114.46,282.62 L115.92,282.58 L117.38,282.54 L118.85,282.50 L120.31,282.45 L121.77,282.41 L123.24,282.37 L124.70,282.33 L126.16,282.29 L127.62,282.25 L129.09,282.21 L130.55,282.17 L132.01,282.13 L133.48,282.09 L134.94,282.05 L136.40,282.01 L137.87,281.97 L139.33,281.93 L140.79,281.89 L142.25,281.85 L143.72,281.81 L145.18,281.77" fill="none" stroke="#12644f" stroke-width="1.45" stroke-linejoin="round" stroke-linecap="round"/>
<path d="M57.40,288.62 L145.18,288.62" fill="none" stroke="#51267c" stroke-width="1.45" stroke-linejoin="round" stroke-linecap="round"/>
<circle cx="57.40" cy="288.62" r="2.6" fill="#51267c"/>
<circle cx="72.03" cy="290.10" r="2.6" fill="#51267c"/>
<circle cx="101.29" cy="289.36" r="2.6" fill="#51267c"/>
<circle cx="145.18" cy="290.10" r="2.6" fill="#51267c"/>
<circle cx="57.40" cy="288.62" r="2.6" fill="#12644f"/>
<circle cx="72.03" cy="283.76" r="2.6" fill="#12644f"/>
<circle cx="101.29" cy="286.49" r="2.6" fill="#12644f"/>
<circle cx="145.18" cy="281.62" r="2.6" fill="#12644f"/>
<circle cx="57.40" cy="287.52" r="2.6" fill="#f7901e"/>
<circle cx="72.03" cy="266.50" r="2.6" fill="#f7901e"/>
<circle cx="101.29" cy="230.35" r="2.6" fill="#f7901e"/>
<circle cx="145.18" cy="199.38" r="2.6" fill="#f7901e"/>
<text x="186.90" y="182.20" font-size="11.1" text-anchor="start" font-weight="bold" fill="#000" textLength="7.9" lengthAdjust="spacingAndGlyphs" >C</text>
<line x1="220.60" y1="182.50" x2="220.60" y2="296.60" stroke="#1a1a1a" stroke-width="1.2"/>
<line x1="220.00" y1="296.00" x2="335.60" y2="296.00" stroke="#1a1a1a" stroke-width="1.2"/>
<line x1="217.30" y1="290.10" x2="220.60" y2="290.10" stroke="#1a1a1a" stroke-width="1.1"/>
<text x="214.30" y="292.55" font-size="8.5" text-anchor="end" font-weight="normal" fill="#1c1c1c" textLength="4.15" lengthAdjust="spacingAndGlyphs" stroke="#1c1c1c" stroke-width="0.12">0</text>
<line x1="217.30" y1="275.35" x2="220.60" y2="275.35" stroke="#1a1a1a" stroke-width="1.1"/>
<text x="214.30" y="277.80" font-size="8.5" text-anchor="end" font-weight="normal" fill="#1c1c1c" textLength="8.3" lengthAdjust="spacingAndGlyphs" stroke="#1c1c1c" stroke-width="0.12">20</text>
<line x1="217.30" y1="260.60" x2="220.60" y2="260.60" stroke="#1a1a1a" stroke-width="1.1"/>
<text x="214.30" y="263.05" font-size="8.5" text-anchor="end" font-weight="normal" fill="#1c1c1c" textLength="8.3" lengthAdjust="spacingAndGlyphs" stroke="#1c1c1c" stroke-width="0.12">40</text>
<line x1="217.30" y1="245.84" x2="220.60" y2="245.84" stroke="#1a1a1a" stroke-width="1.1"/>
<text x="214.30" y="248.29" font-size="8.5" text-anchor="end" font-weight="normal" fill="#1c1c1c" textLength="8.3" lengthAdjust="spacingAndGlyphs" stroke="#1c1c1c" stroke-width="0.12">60</text>
<line x1="217.30" y1="231.09" x2="220.60" y2="231.09" stroke="#1a1a1a" stroke-width="1.1"/>
<text x="214.30" y="233.54" font-size="8.5" text-anchor="end" font-weight="normal" fill="#1c1c1c" textLength="8.3" lengthAdjust="spacingAndGlyphs" stroke="#1c1c1c" stroke-width="0.12">80</text>
<line x1="217.30" y1="216.34" x2="220.60" y2="216.34" stroke="#1a1a1a" stroke-width="1.1"/>
<text x="214.30" y="218.79" font-size="8.5" text-anchor="end" font-weight="normal" fill="#1c1c1c" textLength="12.450000000000001" lengthAdjust="spacingAndGlyphs" stroke="#1c1c1c" stroke-width="0.12">100</text>
<line x1="217.30" y1="201.59" x2="220.60" y2="201.59" stroke="#1a1a1a" stroke-width="1.1"/>
<text x="214.30" y="204.04" font-size="8.5" text-anchor="end" font-weight="normal" fill="#1c1c1c" textLength="12.450000000000001" lengthAdjust="spacingAndGlyphs" stroke="#1c1c1c" stroke-width="0.12">120</text>
<line x1="217.30" y1="186.84" x2="220.60" y2="186.84" stroke="#1a1a1a" stroke-width="1.1"/>
<text x="214.30" y="189.29" font-size="8.5" text-anchor="end" font-weight="normal" fill="#1c1c1c" textLength="12.450000000000001" lengthAdjust="spacingAndGlyphs" stroke="#1c1c1c" stroke-width="0.12">140</text>
<line x1="234.10" y1="296.00" x2="234.10" y2="299.20" stroke="#1a1a1a" stroke-width="1.1"/>
<text x="234.10" y="308.00" font-size="8.5" text-anchor="middle" font-weight="normal" fill="#1c1c1c" textLength="4.3" lengthAdjust="spacingAndGlyphs" stroke="#1c1c1c" stroke-width="0.12">0</text>
<line x1="263.50" y1="296.00" x2="263.50" y2="299.20" stroke="#1a1a1a" stroke-width="1.1"/>
<text x="263.50" y="308.00" font-size="8.5" text-anchor="middle" font-weight="normal" fill="#1c1c1c" textLength="8.6" lengthAdjust="spacingAndGlyphs" stroke="#1c1c1c" stroke-width="0.12">20</text>
<line x1="292.90" y1="296.00" x2="292.90" y2="299.20" stroke="#1a1a1a" stroke-width="1.1"/>
<text x="292.90" y="308.00" font-size="8.5" text-anchor="middle" font-weight="normal" fill="#1c1c1c" textLength="8.6" lengthAdjust="spacingAndGlyphs" stroke="#1c1c1c" stroke-width="0.12">40</text>
<line x1="322.30" y1="296.00" x2="322.30" y2="299.20" stroke="#1a1a1a" stroke-width="1.1"/>
<text x="322.30" y="308.00" font-size="8.5" text-anchor="middle" font-weight="normal" fill="#1c1c1c" textLength="8.6" lengthAdjust="spacingAndGlyphs" stroke="#1c1c1c" stroke-width="0.12">60</text>
<text x="277.20" y="320.80" font-size="9.8" text-anchor="middle" font-weight="normal" fill="#1c1c1c" textLength="35.3" lengthAdjust="spacingAndGlyphs" stroke="#1c1c1c" stroke-width="0.1">Time (min)</text>
<text x="0" y="0" font-size="10" text-anchor="middle" fill="#222" textLength="45" lengthAdjust="spacingAndGlyphs" transform="translate(195.80,238.50) rotate(-90)">Plasmin (nM)</text>
<circle cx="226.40" cy="190.10" r="2.5" fill="#c8102e"/>
<text x="232.00" y="192.70" font-size="7.4" text-anchor="start" font-weight="normal" fill="#1c1c1c" stroke="#1c1c1c" stroke-width="0.12">Plg-Glu<tspan font-size="5.6" dy="-3" stroke-width="0" letter-spacing="0.2">311</tspan></text>
<circle cx="226.40" cy="202.40" r="2.5" fill="#1a5592"/>
<text x="232.00" y="205.00" font-size="7.4" text-anchor="start" font-weight="normal" fill="#1c1c1c" stroke="#1c1c1c" stroke-width="0.12">Plg-Lys<tspan font-size="5.6" dy="-3" stroke-width="0" letter-spacing="0.2">311</tspan></text>
<circle cx="226.40" cy="214.60" r="2.5" fill="#3cbc4b"/>
<text x="232.00" y="217.20" font-size="7.4" text-anchor="start" font-weight="normal" fill="#1c1c1c" stroke="#1c1c1c" stroke-width="0.12">Plg-Ala<tspan font-size="5.6" dy="-3" stroke-width="0" letter-spacing="0.2">311</tspan></text>
<circle cx="226.40" cy="226.70" r="2.5" fill="#51267c"/>
<text x="232.00" y="229.30" font-size="7.4" text-anchor="start" font-weight="normal" fill="#1c1c1c" stroke="#1c1c1c" stroke-width="0.12">No Plg</text>
<line x1="234.10" y1="285.67" x2="234.10" y2="290.10" stroke="#2a2a2a" stroke-width="0.9"/>
<line x1="229.70" y1="285.67" x2="238.50" y2="285.67" stroke="#2a2a2a" stroke-width="1.2"/>
<line x1="229.70" y1="290.10" x2="238.50" y2="290.10" stroke="#2a2a2a" stroke-width="1.2"/>
<line x1="248.80" y1="268.71" x2="248.80" y2="272.40" stroke="#2a2a2a" stroke-width="0.9"/>
<line x1="244.40" y1="268.71" x2="253.20" y2="268.71" stroke="#2a2a2a" stroke-width="1.2"/>
<line x1="244.40" y1="272.40" x2="253.20" y2="272.40" stroke="#2a2a2a" stroke-width="1.2"/>
<line x1="248.80" y1="276.82" x2="248.80" y2="279.77" stroke="#2a2a2a" stroke-width="0.9"/>
<line x1="244.40" y1="276.82" x2="253.20" y2="276.82" stroke="#2a2a2a" stroke-width="1.2"/>
<line x1="244.40" y1="279.77" x2="253.20" y2="279.77" stroke="#2a2a2a" stroke-width="1.2"/>
<line x1="278.20" y1="232.57" x2="278.20" y2="234.04" stroke="#2a2a2a" stroke-width="0.9"/>
<line x1="273.80" y1="232.57" x2="282.60" y2="232.57" stroke="#2a2a2a" stroke-width="1.2"/>
<line x1="273.80" y1="234.04" x2="282.60" y2="234.04" stroke="#2a2a2a" stroke-width="1.2"/>
<line x1="278.20" y1="245.11" x2="278.20" y2="249.53" stroke="#2a2a2a" stroke-width="0.9"/>
<line x1="273.80" y1="245.11" x2="282.60" y2="245.11" stroke="#2a2a2a" stroke-width="1.2"/>
<line x1="273.80" y1="249.53" x2="282.60" y2="249.53" stroke="#2a2a2a" stroke-width="1.2"/>
<line x1="278.20" y1="284.94" x2="278.20" y2="290.84" stroke="#2a2a2a" stroke-width="0.9"/>
<line x1="273.80" y1="284.94" x2="282.60" y2="284.94" stroke="#2a2a2a" stroke-width="1.2"/>
<line x1="273.80" y1="290.84" x2="282.60" y2="290.84" stroke="#2a2a2a" stroke-width="1.2"/>
<line x1="322.30" y1="204.54" x2="322.30" y2="206.01" stroke="#2a2a2a" stroke-width="0.9"/>
<line x1="317.90" y1="204.54" x2="326.70" y2="204.54" stroke="#2a2a2a" stroke-width="1.2"/>
<line x1="317.90" y1="206.01" x2="326.70" y2="206.01" stroke="#2a2a2a" stroke-width="1.2"/>
<line x1="322.30" y1="222.24" x2="322.30" y2="225.19" stroke="#2a2a2a" stroke-width="0.9"/>
<line x1="317.90" y1="222.24" x2="326.70" y2="222.24" stroke="#2a2a2a" stroke-width="1.2"/>
<line x1="317.90" y1="225.19" x2="326.70" y2="225.19" stroke="#2a2a2a" stroke-width="1.2"/>
<line x1="322.30" y1="228.88" x2="322.30" y2="230.35" stroke="#2a2a2a" stroke-width="0.9"/>
<line x1="317.90" y1="228.88" x2="326.70" y2="228.88" stroke="#2a2a2a" stroke-width="1.2"/>
<line x1="317.90" y1="230.35" x2="326.70" y2="230.35" stroke="#2a2a2a" stroke-width="1.2"/>
<line x1="248.80" y1="289.36" x2="248.80" y2="290.84" stroke="#2a2a2a" stroke-width="0.9"/>
<line x1="244.40" y1="289.36" x2="253.20" y2="289.36" stroke="#2a2a2a" stroke-width="1.2"/>
<line x1="244.40" y1="290.84" x2="253.20" y2="290.84" stroke="#2a2a2a" stroke-width="1.2"/>
<line x1="322.30" y1="289.36" x2="322.30" y2="290.84" stroke="#2a2a2a" stroke-width="0.9"/>
<line x1="317.90" y1="289.36" x2="326.70" y2="289.36" stroke="#2a2a2a" stroke-width="1.2"/>
<line x1="317.90" y1="290.84" x2="326.70" y2="290.84" stroke="#2a2a2a" stroke-width="1.2"/>
<path d="M234.10,289.73 L234.81,288.85 L235.70,287.75 L236.74,286.46 L237.91,285.02 L239.18,283.45 L240.53,281.78 L241.93,280.04 L243.36,278.26 L244.78,276.46 L246.18,274.68 L247.53,272.95 L248.80,271.29 L250.02,269.66 L251.25,267.98 L252.47,266.28 L253.70,264.56 L254.92,262.82 L256.15,261.08 L257.38,259.34 L258.60,257.62 L259.82,255.91 L261.05,254.24 L262.27,252.60 L263.50,251.01 L264.70,249.46 L265.86,247.94 L267.00,246.45 L268.13,244.98 L269.25,243.54 L270.39,242.11 L271.55,240.69 L272.76,239.29 L274.01,237.89 L275.32,236.49 L276.72,235.08 L278.20,233.67 L279.78,232.25 L281.45,230.81 L283.20,229.35 L285.01,227.90 L286.87,226.44 L288.77,225.01 L290.69,223.59 L292.63,222.20 L294.57,220.85 L296.49,219.54 L298.39,218.28 L300.25,217.08 L302.16,215.91 L304.18,214.74 L306.28,213.59 L308.42,212.46 L310.55,211.37 L312.65,210.32 L314.68,209.34 L316.58,208.42 L318.34,207.58 L319.90,206.83 L321.23,206.18 L322.30,205.64" fill="none" stroke="#c8102e" stroke-width="1.45" stroke-linejoin="round" stroke-linecap="round"/>
<path d="M234.10,288.62 L234.81,287.68 L235.70,286.48 L236.74,285.06 L237.91,283.46 L239.18,281.73 L240.53,279.91 L241.93,278.04 L243.36,276.17 L244.78,274.33 L246.18,272.57 L247.53,270.93 L248.80,269.45 L250.02,268.08 L251.25,266.75 L252.47,265.46 L253.70,264.20 L254.92,262.98 L256.15,261.79 L257.38,260.64 L258.60,259.53 L259.82,258.45 L261.05,257.41 L262.27,256.40 L263.50,255.43 L264.70,254.52 L265.86,253.67 L267.00,252.87 L268.13,252.13 L269.25,251.42 L270.39,250.73 L271.55,250.06 L272.76,249.40 L274.01,248.73 L275.32,248.04 L276.72,247.33 L278.20,246.58 L279.78,245.80 L281.45,245.00 L283.20,244.18 L285.01,243.36 L286.87,242.53 L288.77,241.70 L290.69,240.87 L292.63,240.05 L294.57,239.25 L296.49,238.47 L298.39,237.72 L300.25,236.99 L302.16,236.28 L304.18,235.55 L306.28,234.82 L308.42,234.10 L310.55,233.39 L312.65,232.71 L314.68,232.06 L316.58,231.45 L318.34,230.89 L319.90,230.39 L321.23,229.97 L322.30,229.62" fill="none" stroke="#3cbc4b" stroke-width="1.45" stroke-linejoin="round" stroke-linecap="round"/>
<path d="M234.10,287.52 L234.81,287.11 L235.70,286.64 L236.74,286.09 L237.91,285.48 L239.18,284.81 L240.53,284.08 L241.93,283.30 L243.36,282.46 L244.78,281.58 L246.18,280.65 L247.53,279.68 L248.80,278.67 L250.02,277.59 L251.25,276.42 L252.47,275.18 L253.70,273.87 L254.92,272.52 L256.15,271.13 L257.38,269.72 L258.60,268.30 L259.82,266.89 L261.05,265.49 L262.27,264.13 L263.50,262.81 L264.70,261.52 L265.86,260.24 L267.00,258.96 L268.13,257.69 L269.25,256.42 L270.39,255.16 L271.55,253.90 L272.76,252.65 L274.01,251.40 L275.32,250.16 L276.72,248.92 L278.20,247.69 L279.78,246.45 L281.45,245.19 L283.20,243.92 L285.01,242.65 L286.87,241.38 L288.77,240.13 L290.69,238.89 L292.63,237.69 L294.57,236.52 L296.49,235.39 L298.39,234.32 L300.25,233.30 L302.16,232.33 L304.18,231.36 L306.28,230.42 L308.42,229.51 L310.55,228.63 L312.65,227.80 L314.68,227.01 L316.58,226.28 L318.34,225.62 L319.90,225.03 L321.23,224.51 L322.30,224.08" fill="none" stroke="#1a5592" stroke-width="1.45" stroke-linejoin="round" stroke-linecap="round"/>
<path d="M234.10,289.51 L322.30,289.51" fill="none" stroke="#51267c" stroke-width="1.45" stroke-linejoin="round" stroke-linecap="round"/>
<circle cx="234.10" cy="287.15" r="2.6" fill="#51267c"/>
<circle cx="248.80" cy="290.10" r="2.6" fill="#51267c"/>
<circle cx="278.20" cy="287.89" r="2.6" fill="#51267c"/>
<circle cx="322.30" cy="290.10" r="2.6" fill="#51267c"/>
<circle cx="234.10" cy="288.62" r="2.6" fill="#3cbc4b"/>
<circle cx="248.80" cy="269.08" r="2.6" fill="#3cbc4b"/>
<circle cx="278.20" cy="246.58" r="2.6" fill="#3cbc4b"/>
<circle cx="322.30" cy="229.62" r="2.6" fill="#3cbc4b"/>
<circle cx="234.10" cy="287.52" r="2.6" fill="#1a5592"/>
<circle cx="248.80" cy="278.67" r="2.6" fill="#1a5592"/>
<circle cx="278.20" cy="247.54" r="2.6" fill="#1a5592"/>
<circle cx="322.30" cy="223.72" r="2.6" fill="#1a5592"/>
<circle cx="234.10" cy="289.73" r="2.6" fill="#c8102e"/>
<circle cx="248.80" cy="271.66" r="2.6" fill="#c8102e"/>
<circle cx="278.20" cy="233.30" r="2.6" fill="#c8102e"/>
<circle cx="322.30" cy="205.28" r="2.6" fill="#c8102e"/>
<text x="365.10" y="182.30" font-size="11.1" text-anchor="start" font-weight="bold" fill="#000" textLength="8.3" lengthAdjust="spacingAndGlyphs" >D</text>
<line x1="397.60" y1="182.50" x2="397.60" y2="296.60" stroke="#1a1a1a" stroke-width="1.2"/>
<line x1="397.00" y1="296.00" x2="509.50" y2="296.00" stroke="#1a1a1a" stroke-width="1.2"/>
<line x1="394.30" y1="290.60" x2="397.60" y2="290.60" stroke="#1a1a1a" stroke-width="1.1"/>
<text x="391.30" y="293.05" font-size="8.5" text-anchor="end" font-weight="normal" fill="#1c1c1c" textLength="4.15" lengthAdjust="spacingAndGlyphs" stroke="#1c1c1c" stroke-width="0.12">0</text>
<line x1="394.30" y1="264.45" x2="397.60" y2="264.45" stroke="#1a1a1a" stroke-width="1.1"/>
<text x="391.30" y="266.90" font-size="8.5" text-anchor="end" font-weight="normal" fill="#1c1c1c" textLength="8.3" lengthAdjust="spacingAndGlyphs" stroke="#1c1c1c" stroke-width="0.12">25</text>
<line x1="394.30" y1="238.30" x2="397.60" y2="238.30" stroke="#1a1a1a" stroke-width="1.1"/>
<text x="391.30" y="240.75" font-size="8.5" text-anchor="end" font-weight="normal" fill="#1c1c1c" textLength="8.3" lengthAdjust="spacingAndGlyphs" stroke="#1c1c1c" stroke-width="0.12">50</text>
<line x1="394.30" y1="212.15" x2="397.60" y2="212.15" stroke="#1a1a1a" stroke-width="1.1"/>
<text x="391.30" y="214.60" font-size="8.5" text-anchor="end" font-weight="normal" fill="#1c1c1c" textLength="8.3" lengthAdjust="spacingAndGlyphs" stroke="#1c1c1c" stroke-width="0.12">70</text>
<line x1="394.30" y1="186.00" x2="397.60" y2="186.00" stroke="#1a1a1a" stroke-width="1.1"/>
<text x="391.30" y="188.45" font-size="8.5" text-anchor="end" font-weight="normal" fill="#1c1c1c" textLength="12.450000000000001" lengthAdjust="spacingAndGlyphs" stroke="#1c1c1c" stroke-width="0.12">100</text>
<line x1="410.90" y1="296.00" x2="410.90" y2="299.20" stroke="#1a1a1a" stroke-width="1.1"/>
<text x="417.30" y="308.00" font-size="8.5" text-anchor="middle" font-weight="normal" fill="#1c1c1c" textLength="4.3" lengthAdjust="spacingAndGlyphs" stroke="#1c1c1c" stroke-width="0.12">0</text>
<line x1="432.74" y1="296.00" x2="432.74" y2="299.20" stroke="#1a1a1a" stroke-width="1.1"/>
<text x="432.74" y="308.00" font-size="8.5" text-anchor="middle" font-weight="normal" fill="#1c1c1c" textLength="4.3" lengthAdjust="spacingAndGlyphs" stroke="#1c1c1c" stroke-width="0.12">4</text>
<line x1="454.58" y1="296.00" x2="454.58" y2="299.20" stroke="#1a1a1a" stroke-width="1.1"/>
<text x="454.58" y="308.00" font-size="8.5" text-anchor="middle" font-weight="normal" fill="#1c1c1c" textLength="4.3" lengthAdjust="spacingAndGlyphs" stroke="#1c1c1c" stroke-width="0.12">8</text>
<line x1="476.42" y1="296.00" x2="476.42" y2="299.20" stroke="#1a1a1a" stroke-width="1.1"/>
<text x="476.42" y="308.00" font-size="8.5" text-anchor="middle" font-weight="normal" fill="#1c1c1c" textLength="8.6" lengthAdjust="spacingAndGlyphs" stroke="#1c1c1c" stroke-width="0.12">12</text>
<line x1="498.26" y1="296.00" x2="498.26" y2="299.20" stroke="#1a1a1a" stroke-width="1.1"/>
<text x="498.26" y="308.00" font-size="8.5" text-anchor="middle" font-weight="normal" fill="#1c1c1c" textLength="8.6" lengthAdjust="spacingAndGlyphs" stroke="#1c1c1c" stroke-width="0.12">16</text>
<text x="454.50" y="320.80" font-size="9.8" text-anchor="middle" font-weight="normal" fill="#1c1c1c" textLength="35.3" lengthAdjust="spacingAndGlyphs" stroke="#1c1c1c" stroke-width="0.1">Time (min)</text>
<text x="0" y="0" font-size="10" text-anchor="middle" fill="#222" textLength="49.4" lengthAdjust="spacingAndGlyphs" transform="translate(373.30,236.70) rotate(-90)">Bradykinin (nM)</text>
<circle cx="403.90" cy="190.10" r="2.5" fill="#c8102e"/>
<text x="410.00" y="192.70" font-size="7.4" text-anchor="start" font-weight="normal" fill="#1c1c1c" stroke="#1c1c1c" stroke-width="0.12">Plg-Glu<tspan font-size="5.6" dy="-3" stroke-width="0" letter-spacing="0.2">311</tspan></text>
<circle cx="403.90" cy="202.40" r="2.5" fill="#1a5592"/>
<text x="410.00" y="205.00" font-size="7.4" text-anchor="start" font-weight="normal" fill="#1c1c1c" stroke="#1c1c1c" stroke-width="0.12">Plg-Lys<tspan font-size="5.6" dy="-3" stroke-width="0" letter-spacing="0.2">311</tspan></text>
<circle cx="403.90" cy="214.60" r="2.5" fill="#3cbc4b"/>
<text x="410.00" y="217.20" font-size="7.4" text-anchor="start" font-weight="normal" fill="#1c1c1c" stroke="#1c1c1c" stroke-width="0.12">Plg-Ala<tspan font-size="5.6" dy="-3" stroke-width="0" letter-spacing="0.2">311</tspan></text>
<circle cx="403.90" cy="226.70" r="2.5" fill="#51267c"/>
<text x="410.00" y="229.30" font-size="7.4" text-anchor="start" font-weight="normal" fill="#1c1c1c" stroke="#1c1c1c" stroke-width="0.12">No Plg</text>
<rect x="406.40" y="286.94" width="9" height="4.6" fill="#111"/>
<rect x="417.32" y="286.94" width="9" height="4.6" fill="#111"/>
<rect x="428.24" y="286.94" width="9" height="4.6" fill="#111"/>
<line x1="432.74" y1="276.48" x2="432.74" y2="281.19" stroke="#2a2a2a" stroke-width="0.9"/>
<line x1="428.34" y1="276.48" x2="437.14" y2="276.48" stroke="#2a2a2a" stroke-width="1.2"/>
<line x1="428.34" y1="281.19" x2="437.14" y2="281.19" stroke="#2a2a2a" stroke-width="1.2"/>
<line x1="454.58" y1="223.66" x2="454.58" y2="229.93" stroke="#2a2a2a" stroke-width="0.9"/>
<line x1="450.18" y1="223.66" x2="458.98" y2="223.66" stroke="#2a2a2a" stroke-width="1.2"/>
<line x1="450.18" y1="229.93" x2="458.98" y2="229.93" stroke="#2a2a2a" stroke-width="1.2"/>
<line x1="498.26" y1="187.05" x2="498.26" y2="204.83" stroke="#2a2a2a" stroke-width="0.9"/>
<line x1="493.76" y1="187.05" x2="502.76" y2="187.05" stroke="#2a2a2a" stroke-width="1.2"/>
<line x1="493.76" y1="204.83" x2="502.76" y2="204.83" stroke="#2a2a2a" stroke-width="1.2"/>
<line x1="454.58" y1="282.23" x2="454.58" y2="285.37" stroke="#2a2a2a" stroke-width="0.9"/>
<line x1="450.18" y1="282.23" x2="458.98" y2="282.23" stroke="#2a2a2a" stroke-width="1.2"/>
<line x1="450.18" y1="285.37" x2="458.98" y2="285.37" stroke="#2a2a2a" stroke-width="1.2"/>
<line x1="498.26" y1="269.16" x2="498.26" y2="271.25" stroke="#2a2a2a" stroke-width="0.9"/>
<line x1="493.86" y1="269.16" x2="502.66" y2="269.16" stroke="#2a2a2a" stroke-width="1.2"/>
<line x1="493.86" y1="271.25" x2="502.66" y2="271.25" stroke="#2a2a2a" stroke-width="1.2"/>
<line x1="498.26" y1="282.23" x2="498.26" y2="283.80" stroke="#2a2a2a" stroke-width="0.9"/>
<line x1="493.86" y1="282.23" x2="502.66" y2="282.23" stroke="#2a2a2a" stroke-width="1.2"/>
<line x1="493.86" y1="283.80" x2="502.66" y2="283.80" stroke="#2a2a2a" stroke-width="1.2"/>
<line x1="454.58" y1="288.51" x2="454.58" y2="290.60" stroke="#2a2a2a" stroke-width="0.9"/>
<line x1="450.18" y1="288.51" x2="458.98" y2="288.51" stroke="#2a2a2a" stroke-width="1.2"/>
<line x1="450.18" y1="290.60" x2="458.98" y2="290.60" stroke="#2a2a2a" stroke-width="1.2"/>
<line x1="498.26" y1="288.72" x2="498.26" y2="290.08" stroke="#2a2a2a" stroke-width="0.9"/>
<line x1="493.86" y1="288.72" x2="502.66" y2="288.72" stroke="#2a2a2a" stroke-width="1.2"/>
<line x1="493.86" y1="290.08" x2="502.66" y2="290.08" stroke="#2a2a2a" stroke-width="1.2"/>
<path d="M420.73,288.14 L422.02,287.90 L423.31,287.55 L424.60,287.07 L425.90,286.43 L427.19,285.62 L428.48,284.59 L429.77,283.33 L431.07,281.81 L432.36,280.03 L433.65,277.97 L434.94,275.63 L436.23,273.03 L437.53,270.18 L438.82,267.11 L440.11,263.85 L441.40,260.44 L442.70,256.94 L443.99,253.38 L445.28,249.80 L446.57,246.26 L447.86,242.78 L449.16,239.41 L450.45,236.16 L451.74,233.06 L453.03,230.11 L454.33,227.34 L455.62,224.74 L456.91,222.32 L458.20,220.06 L459.49,217.97 L460.79,216.05 L462.08,214.27 L463.37,212.64 L464.66,211.14 L465.95,209.76 L467.25,208.50 L468.54,207.34 L469.83,206.28 L471.12,205.31 L472.42,204.42 L473.71,203.61 L475.00,202.86 L476.29,202.18 L477.58,201.55 L478.88,200.97 L480.17,200.44 L481.46,199.95 L482.75,199.51 L484.05,199.09 L485.34,198.71 L486.63,198.36 L487.92,198.04 L489.21,197.74 L490.51,197.47 L491.80,197.21 L493.09,196.97 L494.38,196.75 L495.68,196.55 L496.97,196.36 L498.26,196.18" fill="none" stroke="#c8102e" stroke-width="1.45" stroke-linejoin="round" stroke-linecap="round"/>
<path d="M432.74,290.39 L433.73,290.09 L434.86,289.75 L436.15,289.37 L437.59,288.94 L439.19,288.46 L440.93,287.94 L442.83,287.37 L444.87,286.75 L447.07,286.09 L449.42,285.38 L451.93,284.61 L454.58,283.80 L457.59,282.88 L461.10,281.80 L464.99,280.60 L469.14,279.31 L473.44,277.98 L477.78,276.64 L482.05,275.32 L486.13,274.06 L489.90,272.89 L493.25,271.86 L496.08,270.98 L498.26,270.31" fill="none" stroke="#1a5592" stroke-width="1.45" stroke-linejoin="round" stroke-linecap="round"/>
<path d="M432.74,289.55 L433.73,289.48 L434.86,289.41 L436.15,289.32 L437.59,289.23 L439.19,289.12 L440.93,289.00 L442.83,288.87 L444.87,288.72 L447.07,288.54 L449.42,288.35 L451.93,288.13 L454.58,287.88 L457.59,287.58 L461.10,287.23 L464.99,286.83 L469.14,286.39 L473.44,285.94 L477.78,285.47 L482.05,285.02 L486.13,284.58 L489.90,284.17 L493.25,283.81 L496.08,283.51 L498.26,283.28" fill="none" stroke="#3cbc4b" stroke-width="1.45" stroke-linejoin="round" stroke-linecap="round"/>
<path d="M432.74,289.45 L498.26,289.45" fill="none" stroke="#51267c" stroke-width="1.45" stroke-linejoin="round" stroke-linecap="round"/>
<circle cx="454.58" cy="289.55" r="2.5" fill="#51267c"/>
<circle cx="498.26" cy="289.45" r="2.5" fill="#51267c"/>
<circle cx="410.90" cy="290.29" r="2.5" fill="#3cbc4b"/>
<circle cx="432.74" cy="287.46" r="2.5" fill="#3cbc4b"/>
<circle cx="454.58" cy="287.99" r="2.5" fill="#3cbc4b"/>
<circle cx="498.26" cy="282.96" r="2.5" fill="#3cbc4b"/>
<circle cx="421.82" cy="290.81" r="2.5" fill="#1a5592"/>
<circle cx="432.74" cy="290.60" r="2.5" fill="#1a5592"/>
<circle cx="454.58" cy="283.80" r="2.5" fill="#1a5592"/>
<circle cx="498.26" cy="270.31" r="2.5" fill="#1a5592"/>
<circle cx="410.90" cy="288.09" r="2.5" fill="#c8102e"/>
<circle cx="421.82" cy="287.15" r="2.5" fill="#c8102e"/>
<circle cx="432.74" cy="278.88" r="2.5" fill="#c8102e"/>
<circle cx="454.58" cy="226.79" r="2.5" fill="#c8102e"/>
<circle cx="498.26" cy="195.94" r="2.5" fill="#c8102e"/>
<text x="7.50" y="355.50" font-size="11.1" text-anchor="start" font-weight="bold" fill="#000" textLength="6.6" lengthAdjust="spacingAndGlyphs" >E</text>
<line x1="43.60" y1="355.70" x2="43.60" y2="470.00" stroke="#1a1a1a" stroke-width="1.2"/>
<line x1="43.00" y1="469.40" x2="158.70" y2="469.40" stroke="#1a1a1a" stroke-width="1.2"/>
<line x1="40.30" y1="464.60" x2="43.60" y2="464.60" stroke="#1a1a1a" stroke-width="1.1"/>
<text x="37.30" y="467.05" font-size="8.5" text-anchor="end" font-weight="normal" fill="#1c1c1c" textLength="4.15" lengthAdjust="spacingAndGlyphs" stroke="#1c1c1c" stroke-width="0.12">0</text>
<line x1="40.30" y1="438.35" x2="43.60" y2="438.35" stroke="#1a1a1a" stroke-width="1.1"/>
<text x="37.30" y="440.80" font-size="8.5" text-anchor="end" font-weight="normal" fill="#1c1c1c" textLength="8.3" lengthAdjust="spacingAndGlyphs" stroke="#1c1c1c" stroke-width="0.12">25</text>
<line x1="40.30" y1="412.10" x2="43.60" y2="412.10" stroke="#1a1a1a" stroke-width="1.1"/>
<text x="37.30" y="414.55" font-size="8.5" text-anchor="end" font-weight="normal" fill="#1c1c1c" textLength="8.3" lengthAdjust="spacingAndGlyphs" stroke="#1c1c1c" stroke-width="0.12">50</text>
<line x1="40.30" y1="385.85" x2="43.60" y2="385.85" stroke="#1a1a1a" stroke-width="1.1"/>
<text x="37.30" y="388.30" font-size="8.5" text-anchor="end" font-weight="normal" fill="#1c1c1c" textLength="8.3" lengthAdjust="spacingAndGlyphs" stroke="#1c1c1c" stroke-width="0.12">70</text>
<line x1="40.30" y1="359.60" x2="43.60" y2="359.60" stroke="#1a1a1a" stroke-width="1.1"/>
<text x="37.30" y="362.05" font-size="8.5" text-anchor="end" font-weight="normal" fill="#1c1c1c" textLength="12.450000000000001" lengthAdjust="spacingAndGlyphs" stroke="#1c1c1c" stroke-width="0.12">100</text>
<line x1="54.20" y1="469.40" x2="54.20" y2="472.60" stroke="#1a1a1a" stroke-width="1.1"/>
<text x="54.20" y="481.80" font-size="8.5" text-anchor="middle" font-weight="normal" fill="#1c1c1c" textLength="4.3" lengthAdjust="spacingAndGlyphs" stroke="#1c1c1c" stroke-width="0.12">0</text>
<line x1="77.40" y1="469.40" x2="77.40" y2="472.60" stroke="#1a1a1a" stroke-width="1.1"/>
<text x="77.40" y="481.80" font-size="8.5" text-anchor="middle" font-weight="normal" fill="#1c1c1c" textLength="4.3" lengthAdjust="spacingAndGlyphs" stroke="#1c1c1c" stroke-width="0.12">4</text>
<line x1="100.60" y1="469.40" x2="100.60" y2="472.60" stroke="#1a1a1a" stroke-width="1.1"/>
<text x="100.60" y="481.80" font-size="8.5" text-anchor="middle" font-weight="normal" fill="#1c1c1c" textLength="4.3" lengthAdjust="spacingAndGlyphs" stroke="#1c1c1c" stroke-width="0.12">8</text>
<line x1="123.80" y1="469.40" x2="123.80" y2="472.60" stroke="#1a1a1a" stroke-width="1.1"/>
<text x="123.80" y="481.80" font-size="8.5" text-anchor="middle" font-weight="normal" fill="#1c1c1c" textLength="8.6" lengthAdjust="spacingAndGlyphs" stroke="#1c1c1c" stroke-width="0.12">12</text>
<line x1="147.00" y1="469.40" x2="147.00" y2="472.60" stroke="#1a1a1a" stroke-width="1.1"/>
<text x="147.00" y="481.80" font-size="8.5" text-anchor="middle" font-weight="normal" fill="#1c1c1c" textLength="8.6" lengthAdjust="spacingAndGlyphs" stroke="#1c1c1c" stroke-width="0.12">16</text>
<text x="100.20" y="494.00" font-size="9.8" text-anchor="middle" font-weight="normal" fill="#1c1c1c" textLength="35.3" lengthAdjust="spacingAndGlyphs" stroke="#1c1c1c" stroke-width="0.1">Time (min)</text>
<text x="0" y="0" font-size="10" text-anchor="middle" fill="#222" textLength="53.7" lengthAdjust="spacingAndGlyphs" transform="translate(18.90,412.00) rotate(-90)">Bradykinin (nM)</text>
<circle cx="49.60" cy="362.80" r="2.5" fill="#3cbc4b"/>
<text x="55.30" y="365.40" font-size="7.4" text-anchor="start" font-weight="normal" fill="#1c1c1c" stroke="#1c1c1c" stroke-width="0.12">Plg-Glu<tspan font-size="5.6" dy="-3" stroke-width="0" letter-spacing="0.2">311</tspan><tspan dy="3" dx="1.8"> + tPA</tspan></text>
<circle cx="49.60" cy="374.70" r="2.5" fill="#1a5592"/>
<text x="55.30" y="377.30" font-size="7.4" text-anchor="start" font-weight="normal" fill="#1c1c1c" stroke="#1c1c1c" stroke-width="0.12">Plg-Glu<tspan font-size="5.6" dy="-3" stroke-width="0" letter-spacing="0.2">311</tspan></text>
<circle cx="49.60" cy="386.70" r="2.5" fill="#c8102e"/>
<text x="55.30" y="389.30" font-size="7.4" text-anchor="start" font-weight="normal" fill="#1c1c1c" stroke="#1c1c1c" stroke-width="0.12">tPA</text>
<circle cx="49.60" cy="398.90" r="2.5" fill="#51267c"/>
<text x="55.30" y="401.50" font-size="7.4" text-anchor="start" font-weight="normal" fill="#1c1c1c" stroke="#1c1c1c" stroke-width="0.12">Vehicle</text>
<rect x="49.70" y="459.88" width="9" height="5.5" fill="#111"/>
<rect x="61.30" y="459.88" width="9" height="5.5" fill="#111"/>
<rect x="72.90" y="459.88" width="9" height="5.5" fill="#111"/>
<rect x="96.10" y="459.88" width="9" height="5.5" fill="#111"/>
<rect x="142.50" y="459.88" width="9" height="5.5" fill="#111"/>
<line x1="65.80" y1="455.15" x2="65.80" y2="459.35" stroke="#2a2a2a" stroke-width="0.9"/>
<line x1="61.40" y1="455.15" x2="70.20" y2="455.15" stroke="#2a2a2a" stroke-width="1.2"/>
<line x1="61.40" y1="459.35" x2="70.20" y2="459.35" stroke="#2a2a2a" stroke-width="1.2"/>
<line x1="77.40" y1="437.30" x2="77.40" y2="445.70" stroke="#2a2a2a" stroke-width="0.9"/>
<line x1="73.00" y1="437.30" x2="81.80" y2="437.30" stroke="#2a2a2a" stroke-width="1.2"/>
<line x1="73.00" y1="445.70" x2="81.80" y2="445.70" stroke="#2a2a2a" stroke-width="1.2"/>
<line x1="100.60" y1="382.70" x2="100.60" y2="398.45" stroke="#2a2a2a" stroke-width="0.9"/>
<line x1="96.20" y1="382.70" x2="105.00" y2="382.70" stroke="#2a2a2a" stroke-width="1.2"/>
<line x1="96.20" y1="398.45" x2="105.00" y2="398.45" stroke="#2a2a2a" stroke-width="1.2"/>
<line x1="147.00" y1="361.38" x2="147.00" y2="364.33" stroke="#2a2a2a" stroke-width="0.9"/>
<line x1="142.60" y1="361.38" x2="151.40" y2="361.38" stroke="#2a2a2a" stroke-width="1.2"/>
<line x1="142.60" y1="364.33" x2="151.40" y2="364.33" stroke="#2a2a2a" stroke-width="1.2"/>
<path d="M65.80,460.32 L67.15,459.20 L68.51,457.82 L69.86,456.16 L71.21,454.22 L72.57,451.99 L73.92,449.50 L75.27,446.75 L76.63,443.78 L77.98,440.61 L79.33,437.28 L80.69,433.84 L82.04,430.33 L83.39,426.78 L84.75,423.23 L86.10,419.71 L87.45,416.27 L88.81,412.92 L90.16,409.68 L91.51,406.57 L92.87,403.60 L94.22,400.78 L95.57,398.11 L96.93,395.60 L98.28,393.23 L99.63,391.02 L100.99,388.95 L102.34,387.01 L103.69,385.21 L105.05,383.53 L106.40,381.97 L107.75,380.52 L109.11,379.17 L110.46,377.92 L111.81,376.76 L113.17,375.68 L114.52,374.68 L115.87,373.74 L117.23,372.88 L118.58,372.07 L119.93,371.32 L121.29,370.62 L122.64,369.97 L123.99,369.37 L125.35,368.80 L126.70,368.28 L128.05,367.79 L129.41,367.33 L130.76,366.90 L132.11,366.49 L133.47,366.12 L134.82,365.77 L136.17,365.43 L137.53,365.12 L138.88,364.83 L140.23,364.56 L141.59,364.30 L142.94,364.06 L144.29,363.83 L145.65,363.62 L147.00,363.41" fill="none" stroke="#3cbc4b" stroke-width="1.45" stroke-linejoin="round" stroke-linecap="round"/>
<path d="M54.20,463.24 L147.00,463.24" fill="none" stroke="#1a5592" stroke-width="1.45" stroke-linejoin="round" stroke-linecap="round"/>
<path d="M54.20,462.71 L147.00,462.71" fill="none" stroke="#c8102e" stroke-width="1.45" stroke-linejoin="round" stroke-linecap="round"/>
<path d="M54.20,462.08 L147.00,462.08" fill="none" stroke="#51267c" stroke-width="1.45" stroke-linejoin="round" stroke-linecap="round"/>
<circle cx="54.20" cy="464.08" r="2.5" fill="#1a5592"/>
<circle cx="100.60" cy="464.60" r="2.5" fill="#1a5592"/>
<circle cx="147.00" cy="463.03" r="2.5" fill="#1a5592"/>
<circle cx="54.20" cy="461.98" r="2.5" fill="#c8102e"/>
<circle cx="65.80" cy="465.65" r="2.5" fill="#c8102e"/>
<circle cx="77.40" cy="464.60" r="2.5" fill="#c8102e"/>
<circle cx="54.20" cy="461.98" r="2.5" fill="#51267c"/>
<circle cx="65.80" cy="461.98" r="2.5" fill="#51267c"/>
<circle cx="77.40" cy="463.55" r="2.5" fill="#51267c"/>
<circle cx="100.60" cy="462.29" r="2.5" fill="#51267c"/>
<circle cx="147.00" cy="461.87" r="2.5" fill="#51267c"/>
<circle cx="65.80" cy="457.25" r="2.5" fill="#3cbc4b"/>
<circle cx="77.40" cy="441.50" r="2.5" fill="#3cbc4b"/>
<circle cx="100.60" cy="390.37" r="2.5" fill="#3cbc4b"/>
<circle cx="147.00" cy="362.96" r="2.5" fill="#3cbc4b"/>
<text x="187.50" y="355.50" font-size="11.1" text-anchor="start" font-weight="bold" fill="#000" textLength="6.5" lengthAdjust="spacingAndGlyphs" >F</text>
<line x1="220.60" y1="355.70" x2="220.60" y2="470.00" stroke="#1a1a1a" stroke-width="1.2"/>
<line x1="220.00" y1="469.40" x2="335.30" y2="469.40" stroke="#1a1a1a" stroke-width="1.2"/>
<line x1="217.30" y1="464.60" x2="220.60" y2="464.60" stroke="#1a1a1a" stroke-width="1.1"/>
<text x="214.30" y="467.05" font-size="8.5" text-anchor="end" font-weight="normal" fill="#1c1c1c" textLength="4.15" lengthAdjust="spacingAndGlyphs" stroke="#1c1c1c" stroke-width="0.12">0</text>
<line x1="217.30" y1="429.60" x2="220.60" y2="429.60" stroke="#1a1a1a" stroke-width="1.1"/>
<text x="214.30" y="432.05" font-size="8.5" text-anchor="end" font-weight="normal" fill="#1c1c1c" textLength="8.3" lengthAdjust="spacingAndGlyphs" stroke="#1c1c1c" stroke-width="0.12">50</text>
<line x1="217.30" y1="394.60" x2="220.60" y2="394.60" stroke="#1a1a1a" stroke-width="1.1"/>
<text x="214.30" y="397.05" font-size="8.5" text-anchor="end" font-weight="normal" fill="#1c1c1c" textLength="12.450000000000001" lengthAdjust="spacingAndGlyphs" stroke="#1c1c1c" stroke-width="0.12">100</text>
<line x1="217.30" y1="359.60" x2="220.60" y2="359.60" stroke="#1a1a1a" stroke-width="1.1"/>
<text x="214.30" y="362.05" font-size="8.5" text-anchor="end" font-weight="normal" fill="#1c1c1c" textLength="12.450000000000001" lengthAdjust="spacingAndGlyphs" stroke="#1c1c1c" stroke-width="0.12">150</text>
<line x1="225.30" y1="469.40" x2="225.30" y2="472.60" stroke="#1a1a1a" stroke-width="1.1"/>
<text x="225.30" y="481.80" font-size="8.5" text-anchor="middle" font-weight="normal" fill="#1c1c1c" textLength="4.3" lengthAdjust="spacingAndGlyphs" stroke="#1c1c1c" stroke-width="0.12">0</text>
<line x1="251.18" y1="469.40" x2="251.18" y2="472.60" stroke="#1a1a1a" stroke-width="1.1"/>
<text x="251.18" y="481.80" font-size="8.5" text-anchor="middle" font-weight="normal" fill="#1c1c1c" textLength="4.3" lengthAdjust="spacingAndGlyphs" stroke="#1c1c1c" stroke-width="0.12">4</text>
<line x1="277.06" y1="469.40" x2="277.06" y2="472.60" stroke="#1a1a1a" stroke-width="1.1"/>
<text x="277.06" y="481.80" font-size="8.5" text-anchor="middle" font-weight="normal" fill="#1c1c1c" textLength="4.3" lengthAdjust="spacingAndGlyphs" stroke="#1c1c1c" stroke-width="0.12">8</text>
<line x1="302.94" y1="469.40" x2="302.94" y2="472.60" stroke="#1a1a1a" stroke-width="1.1"/>
<text x="302.94" y="481.80" font-size="8.5" text-anchor="middle" font-weight="normal" fill="#1c1c1c" textLength="8.6" lengthAdjust="spacingAndGlyphs" stroke="#1c1c1c" stroke-width="0.12">12</text>
<line x1="328.82" y1="469.40" x2="328.82" y2="472.60" stroke="#1a1a1a" stroke-width="1.1"/>
<text x="328.82" y="481.80" font-size="8.5" text-anchor="middle" font-weight="normal" fill="#1c1c1c" textLength="8.6" lengthAdjust="spacingAndGlyphs" stroke="#1c1c1c" stroke-width="0.12">16</text>
<text x="276.60" y="494.00" font-size="9.8" text-anchor="middle" font-weight="normal" fill="#1c1c1c" textLength="35.3" lengthAdjust="spacingAndGlyphs" stroke="#1c1c1c" stroke-width="0.1">Time (min)</text>
<text x="0" y="0" font-size="10" text-anchor="middle" fill="#222" textLength="54.2" lengthAdjust="spacingAndGlyphs" transform="translate(195.10,412.20) rotate(-90)">Bradykinin (nM)</text>
<circle cx="226.00" cy="362.30" r="2.5" fill="#8a7dc5"/>
<text x="232.80" y="364.90" font-size="7.4" text-anchor="start" font-weight="normal" fill="#1c1c1c" stroke="#1c1c1c" stroke-width="0.12">250 nM</text>
<circle cx="226.00" cy="374.30" r="2.5" fill="#2f3d52"/>
<text x="232.80" y="376.90" font-size="7.4" text-anchor="start" font-weight="normal" fill="#1c1c1c" stroke="#1c1c1c" stroke-width="0.12">125 nM</text>
<circle cx="226.00" cy="386.20" r="2.5" fill="#2aa8df"/>
<text x="232.80" y="388.80" font-size="7.4" text-anchor="start" font-weight="normal" fill="#1c1c1c" stroke="#1c1c1c" stroke-width="0.12">62.5 nM</text>
<circle cx="226.00" cy="398.60" r="2.5" fill="#e5097f"/>
<text x="232.80" y="401.20" font-size="7.4" text-anchor="start" font-weight="normal" fill="#1c1c1c" stroke="#1c1c1c" stroke-width="0.12">50 nM</text>
<path d="M225.30,464.25 L226.59,464.17 L227.89,463.87 L229.18,463.32 L230.48,462.52 L231.77,461.45 L233.06,460.13 L234.36,458.55 L235.65,456.75 L236.95,454.73 L238.24,452.53 L239.53,450.17 L240.83,447.67 L242.12,445.07 L243.42,442.39 L244.71,439.66 L246.00,436.90 L247.30,434.13 L248.59,431.38 L249.89,428.65 L251.18,425.97 L252.47,423.35 L253.77,420.79 L255.06,418.30 L256.36,415.90 L257.65,413.58 L258.94,411.34 L260.24,409.20 L261.53,407.14 L262.83,405.17 L264.12,403.29 L265.41,401.49 L266.71,399.77 L268.00,398.14 L269.30,396.58 L270.59,395.10 L271.88,393.69 L273.18,392.35 L274.47,391.07 L275.77,389.86 L277.06,388.71 L278.35,387.61 L279.65,386.57 L280.94,385.57 L282.24,384.63 L283.53,383.73 L284.82,382.87 L286.12,382.06 L287.41,381.28 L288.71,380.54 L290.00,379.84 L291.29,379.17 L292.59,378.53 L293.88,377.92 L295.18,377.33 L296.47,376.77 L297.76,376.24 L299.06,375.73 L300.35,375.25 L301.65,374.78 L302.94,374.34 L304.23,373.91 L305.53,373.50 L306.82,373.11 L308.12,372.74 L309.41,372.38 L310.70,372.03 L312.00,371.70 L313.29,371.38 L314.59,371.08 L315.88,370.78 L317.17,370.50 L318.47,370.23 L319.76,369.97 L321.06,369.72 L322.35,369.48 L323.64,369.25 L324.94,369.02 L326.23,368.81 L327.53,368.60 L328.82,368.40" fill="none" stroke="#8a7dc5" stroke-width="1.2" stroke-linejoin="round" stroke-linecap="round"/>
<path d="M225.30,464.25 L225.93,464.23 L226.71,464.21 L227.63,464.19 L228.65,464.17 L229.77,464.15 L230.96,464.12 L232.19,464.08 L233.45,464.02 L234.70,463.94 L235.93,463.84 L237.12,463.71 L238.24,463.55 L239.32,463.36 L240.40,463.15 L241.48,462.92 L242.55,462.67 L243.63,462.40 L244.71,462.11 L245.79,461.80 L246.87,461.47 L247.94,461.13 L249.02,460.76 L250.10,460.38 L251.18,459.98 L252.26,459.57 L253.34,459.14 L254.42,458.71 L255.49,458.25 L256.57,457.78 L257.65,457.29 L258.73,456.77 L259.81,456.23 L260.88,455.66 L261.96,455.06 L263.04,454.42 L264.12,453.75 L265.16,453.09 L266.13,452.46 L267.05,451.86 L267.95,451.25 L268.86,450.61 L269.78,449.92 L270.75,449.15 L271.79,448.29 L272.92,447.30 L274.15,446.17 L275.53,444.88 L277.06,443.39 L278.76,441.70 L280.62,439.83 L282.62,437.79 L284.73,435.61 L286.93,433.31 L289.19,430.90 L291.50,428.42 L293.83,425.89 L296.17,423.32 L298.48,420.73 L300.74,418.15 L302.94,415.60 L305.18,412.93 L307.55,410.03 L310.02,406.96 L312.53,403.79 L315.03,400.59 L317.50,397.41 L319.87,394.33 L322.11,391.42 L324.17,388.73 L326.00,386.34 L327.57,384.31 L328.82,382.70" fill="none" stroke="#2f3d52" stroke-width="1.2" stroke-linejoin="round" stroke-linecap="round"/>
<path d="M225.30,463.20 L225.93,463.16 L226.71,463.11 L227.63,463.05 L228.65,462.98 L229.77,462.91 L230.96,462.83 L232.19,462.76 L233.45,462.69 L234.70,462.62 L235.93,462.57 L237.12,462.53 L238.24,462.50 L239.28,462.49 L240.25,462.48 L241.17,462.49 L242.07,462.50 L242.98,462.52 L243.90,462.54 L244.87,462.57 L245.91,462.61 L247.04,462.65 L248.27,462.69 L249.65,462.73 L251.18,462.78 L252.80,462.83 L254.44,462.90 L256.13,462.97 L257.89,463.05 L259.74,463.13 L261.69,463.22 L263.79,463.30 L266.04,463.38 L268.47,463.46 L271.10,463.52 L273.96,463.58 L277.06,463.62 L280.63,463.65 L284.79,463.67 L289.39,463.68 L294.31,463.68 L299.41,463.68 L304.56,463.67 L309.61,463.66 L314.44,463.65 L318.91,463.64 L322.89,463.63 L326.24,463.62 L328.82,463.62" fill="none" stroke="#e5097f" stroke-width="1.2" stroke-linejoin="round" stroke-linecap="round"/>
<path d="M225.30,463.55 L227.82,463.55 L231.01,463.55 L234.75,463.55 L238.96,463.56 L243.52,463.56 L248.35,463.56 L253.33,463.56 L258.37,463.56 L263.36,463.56 L268.21,463.56 L272.81,463.55 L277.06,463.55 L281.18,463.55 L285.43,463.56 L289.75,463.57 L294.07,463.59 L298.36,463.60 L302.54,463.62 L306.56,463.62 L310.37,463.61 L313.91,463.59 L317.12,463.55 L319.96,463.49 L322.35,463.41 L324.27,463.29 L325.75,463.14 L326.85,462.96 L327.62,462.76 L328.13,462.54 L328.42,462.32 L328.55,462.09 L328.58,461.88 L328.57,461.68 L328.57,461.50 L328.63,461.35 L328.82,461.24" fill="none" stroke="#2aa8df" stroke-width="1.4" stroke-linejoin="round" stroke-linecap="round"/>
<circle cx="225.30" cy="465.30" r="2.3" fill="#2aa8df"/>
<circle cx="251.18" cy="462.85" r="2.3" fill="#2aa8df"/>
<circle cx="328.82" cy="461.24" r="2.3" fill="#2aa8df"/>
<circle cx="225.30" cy="462.50" r="2.3" fill="#2f3d52"/>
<circle cx="251.18" cy="459.98" r="2.3" fill="#2f3d52"/>
<circle cx="277.06" cy="443.39" r="2.3" fill="#2f3d52"/>
<circle cx="328.82" cy="382.70" r="2.3" fill="#2f3d52"/>
<circle cx="238.24" cy="452.00" r="2.3" fill="#8a7dc5"/>
<circle cx="251.18" cy="426.38" r="2.3" fill="#8a7dc5"/>
<circle cx="277.06" cy="389.00" r="2.3" fill="#8a7dc5"/>
<circle cx="328.82" cy="367.51" r="2.3" fill="#8a7dc5"/>
<circle cx="225.30" cy="463.20" r="2.6" fill="#e5097f"/>
<circle cx="238.24" cy="462.22" r="2.6" fill="#e5097f"/>
<circle cx="251.18" cy="462.50" r="2.6" fill="#e5097f"/>
<circle cx="277.06" cy="463.62" r="2.6" fill="#e5097f"/>
<circle cx="328.82" cy="463.62" r="2.6" fill="#e5097f"/>
<text x="365.10" y="355.70" font-size="11.1" text-anchor="start" font-weight="bold" fill="#000" textLength="8.6" lengthAdjust="spacingAndGlyphs" >G</text>
<line x1="397.60" y1="355.70" x2="397.60" y2="470.00" stroke="#1a1a1a" stroke-width="1.2"/>
<line x1="397.00" y1="469.40" x2="512.70" y2="469.40" stroke="#1a1a1a" stroke-width="1.2"/>
<line x1="394.30" y1="464.80" x2="397.60" y2="464.80" stroke="#1a1a1a" stroke-width="1.1"/>
<text x="391.30" y="467.25" font-size="8.5" text-anchor="end" font-weight="normal" fill="#1c1c1c" textLength="4.15" lengthAdjust="spacingAndGlyphs" stroke="#1c1c1c" stroke-width="0.12">0</text>
<line x1="394.30" y1="443.88" x2="397.60" y2="443.88" stroke="#1a1a1a" stroke-width="1.1"/>
<text x="391.30" y="446.33" font-size="8.5" text-anchor="end" font-weight="normal" fill="#1c1c1c" textLength="8.3" lengthAdjust="spacingAndGlyphs" stroke="#1c1c1c" stroke-width="0.12">20</text>
<line x1="394.30" y1="422.96" x2="397.60" y2="422.96" stroke="#1a1a1a" stroke-width="1.1"/>
<text x="391.30" y="425.41" font-size="8.5" text-anchor="end" font-weight="normal" fill="#1c1c1c" textLength="8.3" lengthAdjust="spacingAndGlyphs" stroke="#1c1c1c" stroke-width="0.12">40</text>
<line x1="394.30" y1="402.04" x2="397.60" y2="402.04" stroke="#1a1a1a" stroke-width="1.1"/>
<text x="391.30" y="404.49" font-size="8.5" text-anchor="end" font-weight="normal" fill="#1c1c1c" textLength="8.3" lengthAdjust="spacingAndGlyphs" stroke="#1c1c1c" stroke-width="0.12">60</text>
<line x1="394.30" y1="381.12" x2="397.60" y2="381.12" stroke="#1a1a1a" stroke-width="1.1"/>
<text x="391.30" y="383.57" font-size="8.5" text-anchor="end" font-weight="normal" fill="#1c1c1c" textLength="8.3" lengthAdjust="spacingAndGlyphs" stroke="#1c1c1c" stroke-width="0.12">80</text>
<line x1="394.30" y1="360.20" x2="397.60" y2="360.20" stroke="#1a1a1a" stroke-width="1.1"/>
<text x="391.30" y="362.65" font-size="8.5" text-anchor="end" font-weight="normal" fill="#1c1c1c" textLength="12.450000000000001" lengthAdjust="spacingAndGlyphs" stroke="#1c1c1c" stroke-width="0.12">100</text>
<line x1="402.60" y1="469.40" x2="402.60" y2="472.60" stroke="#1a1a1a" stroke-width="1.1"/>
<text x="402.60" y="481.80" font-size="8.5" text-anchor="middle" font-weight="normal" fill="#1c1c1c" textLength="4.3" lengthAdjust="spacingAndGlyphs" stroke="#1c1c1c" stroke-width="0.12">0</text>
<line x1="428.60" y1="469.40" x2="428.60" y2="472.60" stroke="#1a1a1a" stroke-width="1.1"/>
<text x="428.60" y="481.80" font-size="8.5" text-anchor="middle" font-weight="normal" fill="#1c1c1c" textLength="4.3" lengthAdjust="spacingAndGlyphs" stroke="#1c1c1c" stroke-width="0.12">5</text>
<line x1="454.60" y1="469.40" x2="454.60" y2="472.60" stroke="#1a1a1a" stroke-width="1.1"/>
<text x="454.60" y="481.80" font-size="8.5" text-anchor="middle" font-weight="normal" fill="#1c1c1c" textLength="8.6" lengthAdjust="spacingAndGlyphs" stroke="#1c1c1c" stroke-width="0.12">10</text>
<line x1="480.60" y1="469.40" x2="480.60" y2="472.60" stroke="#1a1a1a" stroke-width="1.1"/>
<text x="480.60" y="481.80" font-size="8.5" text-anchor="middle" font-weight="normal" fill="#1c1c1c" textLength="8.6" lengthAdjust="spacingAndGlyphs" stroke="#1c1c1c" stroke-width="0.12">15</text>
<line x1="506.60" y1="469.40" x2="506.60" y2="472.60" stroke="#1a1a1a" stroke-width="1.1"/>
<text x="506.60" y="481.80" font-size="8.5" text-anchor="middle" font-weight="normal" fill="#1c1c1c" textLength="8.6" lengthAdjust="spacingAndGlyphs" stroke="#1c1c1c" stroke-width="0.12">20</text>
<text x="455.00" y="494.00" font-size="9.8" text-anchor="middle" font-weight="normal" fill="#1c1c1c" textLength="29" lengthAdjust="spacingAndGlyphs" stroke="#1c1c1c" stroke-width="0.1">tPA (nM)</text>
<text x="0" y="0" font-size="10" text-anchor="middle" fill="#222" textLength="53.7" lengthAdjust="spacingAndGlyphs" transform="translate(373.30,412.00) rotate(-90)">Bradykinin (nM)</text>
<circle cx="403.90" cy="363.90" r="2.5" fill="#c8102e"/>
<text x="410.00" y="366.50" font-size="7.4" text-anchor="start" font-weight="normal" fill="#1c1c1c" stroke="#1c1c1c" stroke-width="0.12">Plg-Glu<tspan font-size="5.6" dy="-3" stroke-width="0" letter-spacing="0.2">311</tspan></text>
<circle cx="403.90" cy="376.00" r="2.5" fill="#1a5592"/>
<text x="410.00" y="378.60" font-size="7.4" text-anchor="start" font-weight="normal" fill="#1c1c1c" stroke="#1c1c1c" stroke-width="0.12">Plg-Lys<tspan font-size="5.6" dy="-3" stroke-width="0" letter-spacing="0.2">311</tspan></text>
<path d="M402.60,461.87 L404.33,461.87 L406.07,461.87 L407.80,461.87 L409.53,461.86 L411.27,461.86 L413.00,461.84 L414.73,461.82 L416.47,461.80 L418.20,461.76 L419.93,461.71 L421.67,461.64 L423.40,461.55 L425.13,461.45 L426.87,461.32 L428.60,461.17 L430.33,460.99 L432.07,460.79 L433.80,460.54 L435.53,460.26 L437.27,459.94 L439.00,459.58 L440.73,459.17 L442.47,458.70 L444.20,458.19 L445.93,457.62 L447.67,456.98 L449.40,456.29 L451.13,455.52 L452.87,454.68 L454.60,453.76 L456.33,452.76 L458.07,451.68 L459.80,450.50 L461.53,449.24 L463.27,447.87 L465.00,446.40 L466.73,444.83 L468.47,443.14 L470.20,441.34 L471.93,439.41 L473.67,437.36 L475.40,435.18 L477.13,432.86 L478.87,430.40 L480.60,427.79 L482.33,425.04 L484.07,422.12 L485.80,419.05 L487.53,415.81 L489.27,412.39 L491.00,408.80 L492.73,405.02 L494.47,401.05 L496.20,396.89 L497.93,392.53 L499.67,387.97 L501.40,383.19 L503.13,378.19 L504.87,372.97 L506.60,367.52" fill="none" stroke="#c8102e" stroke-width="1.45" stroke-linejoin="round" stroke-linecap="round"/>
<path d="M402.60,464.80 L403.86,464.78 L405.43,464.77 L407.27,464.77 L409.34,464.77 L411.59,464.76 L413.98,464.74 L416.45,464.71 L418.97,464.66 L421.49,464.59 L423.97,464.48 L426.35,464.35 L428.60,464.17 L430.77,463.95 L432.93,463.69 L435.10,463.40 L437.27,463.07 L439.43,462.72 L441.60,462.35 L443.77,461.97 L445.93,461.59 L448.10,461.20 L450.27,460.82 L452.43,460.45 L454.60,460.09 L456.77,459.76 L458.93,459.44 L461.10,459.12 L463.27,458.81 L465.43,458.51 L467.60,458.19 L469.77,457.87 L471.93,457.52 L474.10,457.16 L476.27,456.78 L478.43,456.36 L480.60,455.91 L482.85,455.40 L485.23,454.81 L487.71,454.17 L490.23,453.49 L492.75,452.79 L495.23,452.09 L497.61,451.40 L499.86,450.75 L501.93,450.14 L503.77,449.60 L505.34,449.15 L506.60,448.80" fill="none" stroke="#1a5592" stroke-width="1.45" stroke-linejoin="round" stroke-linecap="round"/>
<circle cx="402.60" cy="464.80" r="2.6" fill="#1a5592"/>
<circle cx="428.60" cy="464.28" r="2.6" fill="#1a5592"/>
<circle cx="454.60" cy="459.36" r="2.6" fill="#1a5592"/>
<circle cx="480.60" cy="456.43" r="2.6" fill="#1a5592"/>
<circle cx="506.60" cy="448.80" r="2.6" fill="#1a5592"/>
<circle cx="402.60" cy="461.87" r="2.6" fill="#c8102e"/>
<circle cx="428.60" cy="461.87" r="2.6" fill="#c8102e"/>
<circle cx="454.60" cy="450.26" r="2.6" fill="#c8102e"/>
<circle cx="480.60" cy="427.77" r="2.6" fill="#c8102e"/>
<circle cx="506.60" cy="367.52" r="2.6" fill="#c8102e"/>
<rect x="0.6" y="0.6" width="518.8" height="501.8" fill="none" stroke="#000" stroke-width="1.3"/>
</svg>
</body></html>
